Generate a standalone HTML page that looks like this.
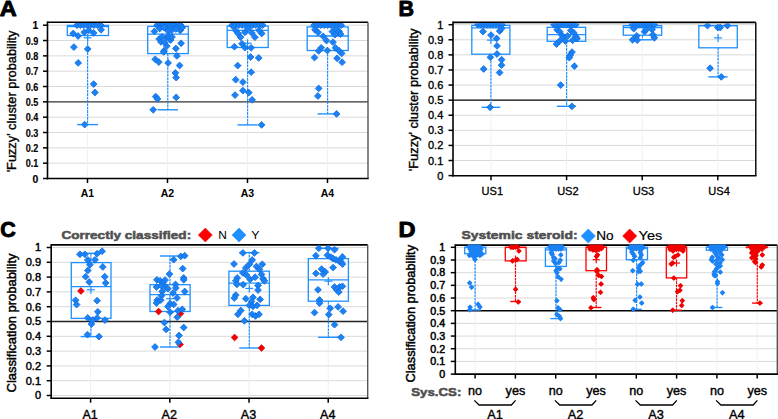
<!DOCTYPE html>
<html><head><meta charset="utf-8"><style>
html,body{margin:0;padding:0;background:#fff;width:778px;height:419px;overflow:hidden}
svg{display:block}
text{font-family:"Liberation Sans",sans-serif}
</style></head><body>
<svg width="778" height="419" viewBox="0 0 778 419">
<g font-family="Liberation Sans, sans-serif">
<text x="-0.2" y="15.7" font-size="21.5" font-weight="bold" text-anchor="start" fill="#000" stroke="#000" stroke-width="0.9" stroke-linejoin="round" textLength="17" lengthAdjust="spacingAndGlyphs">A</text>
<text x="398.6" y="15.6" font-size="21.5" font-weight="bold" text-anchor="start" fill="#000" stroke="#000" stroke-width="0.9" stroke-linejoin="round">B</text>
<text x="0.3" y="237.4" font-size="21.5" font-weight="bold" text-anchor="start" fill="#000" stroke="#000" stroke-width="0.9" stroke-linejoin="round">C</text>
<text x="398.6" y="237.4" font-size="21.5" font-weight="bold" text-anchor="start" fill="#000" stroke="#000" stroke-width="0.9" stroke-linejoin="round" textLength="17" lengthAdjust="spacingAndGlyphs">D</text>
<line x1="47.5" y1="163.17" x2="368" y2="163.17" stroke="#d9d9d9" stroke-width="1" />
<line x1="47.5" y1="147.84" x2="368" y2="147.84" stroke="#d9d9d9" stroke-width="1" />
<line x1="47.5" y1="132.51" x2="368" y2="132.51" stroke="#d9d9d9" stroke-width="1" />
<line x1="47.5" y1="117.18" x2="368" y2="117.18" stroke="#d9d9d9" stroke-width="1" />
<line x1="47.5" y1="86.52" x2="368" y2="86.52" stroke="#d9d9d9" stroke-width="1" />
<line x1="47.5" y1="71.19" x2="368" y2="71.19" stroke="#d9d9d9" stroke-width="1" />
<line x1="47.5" y1="55.86" x2="368" y2="55.86" stroke="#d9d9d9" stroke-width="1" />
<line x1="47.5" y1="40.53" x2="368" y2="40.53" stroke="#d9d9d9" stroke-width="1" />
<line x1="47.5" y1="25.2" x2="368" y2="25.2" stroke="#d9d9d9" stroke-width="1" />
<line x1="87.5" y1="22.2" x2="87.5" y2="178.5" stroke="#f0f0f0" stroke-width="1" />
<line x1="167.5" y1="22.2" x2="167.5" y2="178.5" stroke="#f0f0f0" stroke-width="1" />
<line x1="247.5" y1="22.2" x2="247.5" y2="178.5" stroke="#f0f0f0" stroke-width="1" />
<line x1="327.5" y1="22.2" x2="327.5" y2="178.5" stroke="#f0f0f0" stroke-width="1" />
<line x1="47.5" y1="101.85" x2="368" y2="101.85" stroke="#333" stroke-width="1.4" />
<line x1="47.5" y1="22.2" x2="368" y2="22.2" stroke="#000" stroke-width="1.6" />
<line x1="368" y1="22.2" x2="368" y2="178.5" stroke="#555" stroke-width="1.4" />
<line x1="46.7" y1="178.5" x2="368.7" y2="178.5" stroke="#000" stroke-width="1.6" />
<line x1="47.5" y1="21.4" x2="47.5" y2="179.3" stroke="#000" stroke-width="1.6" />
<line x1="43" y1="178.5" x2="47.5" y2="178.5" stroke="#000" stroke-width="1.5" />
<text x="38.3" y="182.5" font-size="10.4" font-weight="bold" text-anchor="end" fill="#000" stroke="#000" stroke-width="0.15">0</text>
<line x1="43" y1="163.17" x2="47.5" y2="163.17" stroke="#000" stroke-width="1.5" />
<text x="38.3" y="167.17" font-size="10.4" font-weight="bold" text-anchor="end" fill="#000" stroke="#000" stroke-width="0.15" textLength="12.6" lengthAdjust="spacingAndGlyphs">0.1</text>
<line x1="43" y1="147.84" x2="47.5" y2="147.84" stroke="#000" stroke-width="1.5" />
<text x="38.3" y="151.84" font-size="10.4" font-weight="bold" text-anchor="end" fill="#000" stroke="#000" stroke-width="0.15" textLength="12.6" lengthAdjust="spacingAndGlyphs">0.2</text>
<line x1="43" y1="132.51" x2="47.5" y2="132.51" stroke="#000" stroke-width="1.5" />
<text x="38.3" y="136.51" font-size="10.4" font-weight="bold" text-anchor="end" fill="#000" stroke="#000" stroke-width="0.15" textLength="12.6" lengthAdjust="spacingAndGlyphs">0.3</text>
<line x1="43" y1="117.18" x2="47.5" y2="117.18" stroke="#000" stroke-width="1.5" />
<text x="38.3" y="121.18" font-size="10.4" font-weight="bold" text-anchor="end" fill="#000" stroke="#000" stroke-width="0.15" textLength="12.6" lengthAdjust="spacingAndGlyphs">0.4</text>
<line x1="43" y1="101.85" x2="47.5" y2="101.85" stroke="#000" stroke-width="1.5" />
<text x="38.3" y="105.85" font-size="10.4" font-weight="bold" text-anchor="end" fill="#000" stroke="#000" stroke-width="0.15" textLength="12.6" lengthAdjust="spacingAndGlyphs">0.5</text>
<line x1="43" y1="86.52" x2="47.5" y2="86.52" stroke="#000" stroke-width="1.5" />
<text x="38.3" y="90.52" font-size="10.4" font-weight="bold" text-anchor="end" fill="#000" stroke="#000" stroke-width="0.15" textLength="12.6" lengthAdjust="spacingAndGlyphs">0.6</text>
<line x1="43" y1="71.19" x2="47.5" y2="71.19" stroke="#000" stroke-width="1.5" />
<text x="38.3" y="75.19" font-size="10.4" font-weight="bold" text-anchor="end" fill="#000" stroke="#000" stroke-width="0.15" textLength="12.6" lengthAdjust="spacingAndGlyphs">0.7</text>
<line x1="43" y1="55.86" x2="47.5" y2="55.86" stroke="#000" stroke-width="1.5" />
<text x="38.3" y="59.86" font-size="10.4" font-weight="bold" text-anchor="end" fill="#000" stroke="#000" stroke-width="0.15" textLength="12.6" lengthAdjust="spacingAndGlyphs">0.8</text>
<line x1="43" y1="40.53" x2="47.5" y2="40.53" stroke="#000" stroke-width="1.5" />
<text x="38.3" y="44.53" font-size="10.4" font-weight="bold" text-anchor="end" fill="#000" stroke="#000" stroke-width="0.15" textLength="12.6" lengthAdjust="spacingAndGlyphs">0.9</text>
<line x1="43" y1="25.2" x2="47.5" y2="25.2" stroke="#000" stroke-width="1.5" />
<text x="38.3" y="29.2" font-size="10.4" font-weight="bold" text-anchor="end" fill="#000" stroke="#000" stroke-width="0.15">1</text>
<line x1="87.5" y1="178.5" x2="87.5" y2="183" stroke="#000" stroke-width="1.5" />
<line x1="167.5" y1="178.5" x2="167.5" y2="183" stroke="#000" stroke-width="1.5" />
<line x1="247.5" y1="178.5" x2="247.5" y2="183" stroke="#000" stroke-width="1.5" />
<line x1="327.5" y1="178.5" x2="327.5" y2="183" stroke="#000" stroke-width="1.5" />
<line x1="453" y1="160.51" x2="755.8" y2="160.51" stroke="#d9d9d9" stroke-width="1" />
<line x1="453" y1="145.42" x2="755.8" y2="145.42" stroke="#d9d9d9" stroke-width="1" />
<line x1="453" y1="130.33" x2="755.8" y2="130.33" stroke="#d9d9d9" stroke-width="1" />
<line x1="453" y1="115.24" x2="755.8" y2="115.24" stroke="#d9d9d9" stroke-width="1" />
<line x1="453" y1="85.06" x2="755.8" y2="85.06" stroke="#d9d9d9" stroke-width="1" />
<line x1="453" y1="69.97" x2="755.8" y2="69.97" stroke="#d9d9d9" stroke-width="1" />
<line x1="453" y1="54.88" x2="755.8" y2="54.88" stroke="#d9d9d9" stroke-width="1" />
<line x1="453" y1="39.79" x2="755.8" y2="39.79" stroke="#d9d9d9" stroke-width="1" />
<line x1="453" y1="24.7" x2="755.8" y2="24.7" stroke="#d9d9d9" stroke-width="1" />
<line x1="491" y1="22.4" x2="491" y2="175.7" stroke="#f0f0f0" stroke-width="1" />
<line x1="566.6" y1="22.4" x2="566.6" y2="175.7" stroke="#f0f0f0" stroke-width="1" />
<line x1="642.2" y1="22.4" x2="642.2" y2="175.7" stroke="#f0f0f0" stroke-width="1" />
<line x1="717.8" y1="22.4" x2="717.8" y2="175.7" stroke="#f0f0f0" stroke-width="1" />
<line x1="453" y1="100.15" x2="755.8" y2="100.15" stroke="#000" stroke-width="1.4" />
<line x1="453" y1="22.4" x2="755.8" y2="22.4" stroke="#000" stroke-width="1.6" />
<line x1="755.8" y1="22.4" x2="755.8" y2="175.7" stroke="#000" stroke-width="1.4" />
<line x1="452.2" y1="175.7" x2="756.5" y2="175.7" stroke="#000" stroke-width="1.6" />
<line x1="453" y1="21.6" x2="453" y2="176.5" stroke="#000" stroke-width="1.6" />
<line x1="448.5" y1="175.6" x2="453" y2="175.6" stroke="#000" stroke-width="1.5" />
<text x="443.3" y="179.6" font-size="11" font-weight="normal" text-anchor="end" fill="#000" stroke="#000" stroke-width="0.35">0</text>
<line x1="448.5" y1="160.51" x2="453" y2="160.51" stroke="#000" stroke-width="1.5" />
<text x="443.3" y="164.51" font-size="11" font-weight="normal" text-anchor="end" fill="#000" stroke="#000" stroke-width="0.35">0.1</text>
<line x1="448.5" y1="145.42" x2="453" y2="145.42" stroke="#000" stroke-width="1.5" />
<text x="443.3" y="149.42" font-size="11" font-weight="normal" text-anchor="end" fill="#000" stroke="#000" stroke-width="0.35">0.2</text>
<line x1="448.5" y1="130.33" x2="453" y2="130.33" stroke="#000" stroke-width="1.5" />
<text x="443.3" y="134.33" font-size="11" font-weight="normal" text-anchor="end" fill="#000" stroke="#000" stroke-width="0.35">0.3</text>
<line x1="448.5" y1="115.24" x2="453" y2="115.24" stroke="#000" stroke-width="1.5" />
<text x="443.3" y="119.24" font-size="11" font-weight="normal" text-anchor="end" fill="#000" stroke="#000" stroke-width="0.35">0.4</text>
<line x1="448.5" y1="100.15" x2="453" y2="100.15" stroke="#000" stroke-width="1.5" />
<text x="443.3" y="104.15" font-size="11" font-weight="normal" text-anchor="end" fill="#000" stroke="#000" stroke-width="0.35">0.5</text>
<line x1="448.5" y1="85.06" x2="453" y2="85.06" stroke="#000" stroke-width="1.5" />
<text x="443.3" y="89.06" font-size="11" font-weight="normal" text-anchor="end" fill="#000" stroke="#000" stroke-width="0.35">0.6</text>
<line x1="448.5" y1="69.97" x2="453" y2="69.97" stroke="#000" stroke-width="1.5" />
<text x="443.3" y="73.97" font-size="11" font-weight="normal" text-anchor="end" fill="#000" stroke="#000" stroke-width="0.35">0.7</text>
<line x1="448.5" y1="54.88" x2="453" y2="54.88" stroke="#000" stroke-width="1.5" />
<text x="443.3" y="58.88" font-size="11" font-weight="normal" text-anchor="end" fill="#000" stroke="#000" stroke-width="0.35">0.8</text>
<line x1="448.5" y1="39.79" x2="453" y2="39.79" stroke="#000" stroke-width="1.5" />
<text x="443.3" y="43.79" font-size="11" font-weight="normal" text-anchor="end" fill="#000" stroke="#000" stroke-width="0.35">0.9</text>
<line x1="448.5" y1="24.7" x2="453" y2="24.7" stroke="#000" stroke-width="1.5" />
<text x="443.3" y="28.7" font-size="11" font-weight="normal" text-anchor="end" fill="#000" stroke="#000" stroke-width="0.35">1</text>
<line x1="491" y1="175.7" x2="491" y2="180.2" stroke="#000" stroke-width="1.5" />
<line x1="566.6" y1="175.7" x2="566.6" y2="180.2" stroke="#000" stroke-width="1.5" />
<line x1="642.2" y1="175.7" x2="642.2" y2="180.2" stroke="#000" stroke-width="1.5" />
<line x1="717.8" y1="175.7" x2="717.8" y2="180.2" stroke="#000" stroke-width="1.5" />
<line x1="51.2" y1="395.5" x2="367.7" y2="395.5" stroke="#d9d9d9" stroke-width="1" />
<line x1="51.2" y1="380.7" x2="367.7" y2="380.7" stroke="#d9d9d9" stroke-width="1" />
<line x1="51.2" y1="365.9" x2="367.7" y2="365.9" stroke="#d9d9d9" stroke-width="1" />
<line x1="51.2" y1="351.1" x2="367.7" y2="351.1" stroke="#d9d9d9" stroke-width="1" />
<line x1="51.2" y1="336.3" x2="367.7" y2="336.3" stroke="#d9d9d9" stroke-width="1" />
<line x1="51.2" y1="306.7" x2="367.7" y2="306.7" stroke="#d9d9d9" stroke-width="1" />
<line x1="51.2" y1="291.9" x2="367.7" y2="291.9" stroke="#d9d9d9" stroke-width="1" />
<line x1="51.2" y1="277.1" x2="367.7" y2="277.1" stroke="#d9d9d9" stroke-width="1" />
<line x1="51.2" y1="262.3" x2="367.7" y2="262.3" stroke="#d9d9d9" stroke-width="1" />
<line x1="51.2" y1="247.5" x2="367.7" y2="247.5" stroke="#d9d9d9" stroke-width="1" />
<line x1="90.6" y1="244.9" x2="90.6" y2="398.2" stroke="#f0f0f0" stroke-width="1" />
<line x1="169.8" y1="244.9" x2="169.8" y2="398.2" stroke="#f0f0f0" stroke-width="1" />
<line x1="249" y1="244.9" x2="249" y2="398.2" stroke="#f0f0f0" stroke-width="1" />
<line x1="328.2" y1="244.9" x2="328.2" y2="398.2" stroke="#f0f0f0" stroke-width="1" />
<line x1="51.2" y1="321.5" x2="367.7" y2="321.5" stroke="#222" stroke-width="1.4" />
<line x1="51.2" y1="244.9" x2="367.7" y2="244.9" stroke="#000" stroke-width="1.6" />
<line x1="367.7" y1="244.9" x2="367.7" y2="398.2" stroke="#555" stroke-width="1.4" />
<line x1="50.4" y1="398.2" x2="368.4" y2="398.2" stroke="#000" stroke-width="1.6" />
<line x1="51.2" y1="244.1" x2="51.2" y2="399" stroke="#000" stroke-width="1.6" />
<line x1="46.7" y1="395.5" x2="51.2" y2="395.5" stroke="#000" stroke-width="1.5" />
<text x="41" y="399.4" font-size="11" font-weight="normal" text-anchor="end" fill="#000" stroke="#000" stroke-width="0.45">0</text>
<line x1="46.7" y1="380.7" x2="51.2" y2="380.7" stroke="#000" stroke-width="1.5" />
<text x="41" y="384.6" font-size="11" font-weight="normal" text-anchor="end" fill="#000" stroke="#000" stroke-width="0.45">0.1</text>
<line x1="46.7" y1="365.9" x2="51.2" y2="365.9" stroke="#000" stroke-width="1.5" />
<text x="41" y="369.8" font-size="11" font-weight="normal" text-anchor="end" fill="#000" stroke="#000" stroke-width="0.45">0.2</text>
<line x1="46.7" y1="351.1" x2="51.2" y2="351.1" stroke="#000" stroke-width="1.5" />
<text x="41" y="355" font-size="11" font-weight="normal" text-anchor="end" fill="#000" stroke="#000" stroke-width="0.45">0.3</text>
<line x1="46.7" y1="336.3" x2="51.2" y2="336.3" stroke="#000" stroke-width="1.5" />
<text x="41" y="340.2" font-size="11" font-weight="normal" text-anchor="end" fill="#000" stroke="#000" stroke-width="0.45">0.4</text>
<line x1="46.7" y1="321.5" x2="51.2" y2="321.5" stroke="#000" stroke-width="1.5" />
<text x="41" y="325.4" font-size="11" font-weight="normal" text-anchor="end" fill="#000" stroke="#000" stroke-width="0.45">0.5</text>
<line x1="46.7" y1="306.7" x2="51.2" y2="306.7" stroke="#000" stroke-width="1.5" />
<text x="41" y="310.6" font-size="11" font-weight="normal" text-anchor="end" fill="#000" stroke="#000" stroke-width="0.45">0.6</text>
<line x1="46.7" y1="291.9" x2="51.2" y2="291.9" stroke="#000" stroke-width="1.5" />
<text x="41" y="295.8" font-size="11" font-weight="normal" text-anchor="end" fill="#000" stroke="#000" stroke-width="0.45">0.7</text>
<line x1="46.7" y1="277.1" x2="51.2" y2="277.1" stroke="#000" stroke-width="1.5" />
<text x="41" y="281" font-size="11" font-weight="normal" text-anchor="end" fill="#000" stroke="#000" stroke-width="0.45">0.8</text>
<line x1="46.7" y1="262.3" x2="51.2" y2="262.3" stroke="#000" stroke-width="1.5" />
<text x="41" y="266.2" font-size="11" font-weight="normal" text-anchor="end" fill="#000" stroke="#000" stroke-width="0.45">0.9</text>
<line x1="46.7" y1="247.5" x2="51.2" y2="247.5" stroke="#000" stroke-width="1.5" />
<text x="41" y="251.4" font-size="11" font-weight="normal" text-anchor="end" fill="#000" stroke="#000" stroke-width="0.45">1</text>
<line x1="90.6" y1="398.2" x2="90.6" y2="402.7" stroke="#000" stroke-width="1.5" />
<line x1="169.8" y1="398.2" x2="169.8" y2="402.7" stroke="#000" stroke-width="1.5" />
<line x1="249" y1="398.2" x2="249" y2="402.7" stroke="#000" stroke-width="1.5" />
<line x1="328.2" y1="398.2" x2="328.2" y2="402.7" stroke="#000" stroke-width="1.5" />
<line x1="455.3" y1="361.42" x2="777.3" y2="361.42" stroke="#d9d9d9" stroke-width="1" />
<line x1="455.3" y1="348.74" x2="777.3" y2="348.74" stroke="#d9d9d9" stroke-width="1" />
<line x1="455.3" y1="336.06" x2="777.3" y2="336.06" stroke="#d9d9d9" stroke-width="1" />
<line x1="455.3" y1="323.38" x2="777.3" y2="323.38" stroke="#d9d9d9" stroke-width="1" />
<line x1="455.3" y1="298.02" x2="777.3" y2="298.02" stroke="#d9d9d9" stroke-width="1" />
<line x1="455.3" y1="285.34" x2="777.3" y2="285.34" stroke="#d9d9d9" stroke-width="1" />
<line x1="455.3" y1="272.66" x2="777.3" y2="272.66" stroke="#d9d9d9" stroke-width="1" />
<line x1="455.3" y1="259.98" x2="777.3" y2="259.98" stroke="#d9d9d9" stroke-width="1" />
<line x1="455.3" y1="247.3" x2="777.3" y2="247.3" stroke="#d9d9d9" stroke-width="1" />
<line x1="475.1" y1="245.1" x2="475.1" y2="374.1" stroke="#f0f0f0" stroke-width="1" />
<line x1="515.4" y1="245.1" x2="515.4" y2="374.1" stroke="#f0f0f0" stroke-width="1" />
<line x1="555.7" y1="245.1" x2="555.7" y2="374.1" stroke="#f0f0f0" stroke-width="1" />
<line x1="596" y1="245.1" x2="596" y2="374.1" stroke="#f0f0f0" stroke-width="1" />
<line x1="636.3" y1="245.1" x2="636.3" y2="374.1" stroke="#f0f0f0" stroke-width="1" />
<line x1="676.6" y1="245.1" x2="676.6" y2="374.1" stroke="#f0f0f0" stroke-width="1" />
<line x1="716.9" y1="245.1" x2="716.9" y2="374.1" stroke="#f0f0f0" stroke-width="1" />
<line x1="757.2" y1="245.1" x2="757.2" y2="374.1" stroke="#f0f0f0" stroke-width="1" />
<line x1="455.3" y1="310.7" x2="777.3" y2="310.7" stroke="#000" stroke-width="1.4" />
<line x1="455.3" y1="245.1" x2="777.3" y2="245.1" stroke="#000" stroke-width="1.6" />
<line x1="777.3" y1="245.1" x2="777.3" y2="374.1" stroke="#555" stroke-width="1.4" />
<line x1="454.5" y1="374.1" x2="778" y2="374.1" stroke="#000" stroke-width="1.6" />
<line x1="455.3" y1="244.3" x2="455.3" y2="374.9" stroke="#000" stroke-width="1.6" />
<line x1="450.8" y1="374.1" x2="455.3" y2="374.1" stroke="#000" stroke-width="1.5" />
<text x="445.2" y="377.9" font-size="10.7" font-weight="normal" text-anchor="end" fill="#000" stroke="#000" stroke-width="0.5">0</text>
<line x1="450.8" y1="361.42" x2="455.3" y2="361.42" stroke="#000" stroke-width="1.5" />
<text x="445.2" y="365.22" font-size="10.7" font-weight="normal" text-anchor="end" fill="#000" stroke="#000" stroke-width="0.5">0.1</text>
<line x1="450.8" y1="348.74" x2="455.3" y2="348.74" stroke="#000" stroke-width="1.5" />
<text x="445.2" y="352.54" font-size="10.7" font-weight="normal" text-anchor="end" fill="#000" stroke="#000" stroke-width="0.5">0.2</text>
<line x1="450.8" y1="336.06" x2="455.3" y2="336.06" stroke="#000" stroke-width="1.5" />
<text x="445.2" y="339.86" font-size="10.7" font-weight="normal" text-anchor="end" fill="#000" stroke="#000" stroke-width="0.5">0.3</text>
<line x1="450.8" y1="323.38" x2="455.3" y2="323.38" stroke="#000" stroke-width="1.5" />
<text x="445.2" y="327.18" font-size="10.7" font-weight="normal" text-anchor="end" fill="#000" stroke="#000" stroke-width="0.5">0.4</text>
<line x1="450.8" y1="310.7" x2="455.3" y2="310.7" stroke="#000" stroke-width="1.5" />
<text x="445.2" y="314.5" font-size="10.7" font-weight="normal" text-anchor="end" fill="#000" stroke="#000" stroke-width="0.5">0.5</text>
<line x1="450.8" y1="298.02" x2="455.3" y2="298.02" stroke="#000" stroke-width="1.5" />
<text x="445.2" y="301.82" font-size="10.7" font-weight="normal" text-anchor="end" fill="#000" stroke="#000" stroke-width="0.5">0.6</text>
<line x1="450.8" y1="285.34" x2="455.3" y2="285.34" stroke="#000" stroke-width="1.5" />
<text x="445.2" y="289.14" font-size="10.7" font-weight="normal" text-anchor="end" fill="#000" stroke="#000" stroke-width="0.5">0.7</text>
<line x1="450.8" y1="272.66" x2="455.3" y2="272.66" stroke="#000" stroke-width="1.5" />
<text x="445.2" y="276.46" font-size="10.7" font-weight="normal" text-anchor="end" fill="#000" stroke="#000" stroke-width="0.5">0.8</text>
<line x1="450.8" y1="259.98" x2="455.3" y2="259.98" stroke="#000" stroke-width="1.5" />
<text x="445.2" y="263.78" font-size="10.7" font-weight="normal" text-anchor="end" fill="#000" stroke="#000" stroke-width="0.5">0.9</text>
<line x1="450.8" y1="247.3" x2="455.3" y2="247.3" stroke="#000" stroke-width="1.5" />
<text x="445.2" y="251.1" font-size="10.7" font-weight="normal" text-anchor="end" fill="#000" stroke="#000" stroke-width="0.5">1</text>
<line x1="475.1" y1="374.1" x2="475.1" y2="378.6" stroke="#000" stroke-width="1.5" />
<line x1="515.4" y1="374.1" x2="515.4" y2="378.6" stroke="#000" stroke-width="1.5" />
<line x1="555.7" y1="374.1" x2="555.7" y2="378.6" stroke="#000" stroke-width="1.5" />
<line x1="596" y1="374.1" x2="596" y2="378.6" stroke="#000" stroke-width="1.5" />
<line x1="636.3" y1="374.1" x2="636.3" y2="378.6" stroke="#000" stroke-width="1.5" />
<line x1="676.6" y1="374.1" x2="676.6" y2="378.6" stroke="#000" stroke-width="1.5" />
<line x1="716.9" y1="374.1" x2="716.9" y2="378.6" stroke="#000" stroke-width="1.5" />
<line x1="757.2" y1="374.1" x2="757.2" y2="378.6" stroke="#000" stroke-width="1.5" />
<text x="16.1" y="101.45" font-size="12" font-weight="normal" text-anchor="middle" fill="#000" transform="rotate(-90 16.1 101.45)" stroke="#000" stroke-width="0.35" textLength="141.8" lengthAdjust="spacingAndGlyphs">'Fuzzy' cluster probability</text>
<text x="418.1" y="99.9" font-size="12" font-weight="normal" text-anchor="middle" fill="#000" transform="rotate(-90 418.1 99.9)" stroke="#000" stroke-width="0.35" textLength="142.6" lengthAdjust="spacingAndGlyphs">'Fuzzy' cluster probability</text>
<text x="16.3" y="322.95" font-size="12.2" font-weight="normal" text-anchor="middle" fill="#000" transform="rotate(-90 16.3 322.95)" stroke="#000" stroke-width="0.45" textLength="139" lengthAdjust="spacingAndGlyphs">Classification probability</text>
<text x="415.1" y="313.7" font-size="12.2" font-weight="normal" text-anchor="middle" fill="#000" transform="rotate(-90 415.1 313.7)" stroke="#000" stroke-width="0.45" textLength="137.6" lengthAdjust="spacingAndGlyphs">Classification probability</text>
<text x="87.5" y="197" font-size="10.5" font-weight="bold" text-anchor="middle" fill="#000" >A1</text>
<text x="167.5" y="197" font-size="10.5" font-weight="bold" text-anchor="middle" fill="#000" >A2</text>
<text x="247.5" y="197" font-size="10.5" font-weight="bold" text-anchor="middle" fill="#000" >A3</text>
<text x="327.5" y="197" font-size="10.5" font-weight="bold" text-anchor="middle" fill="#000" >A4</text>
<text x="492.3" y="194.8" font-size="11" font-weight="normal" text-anchor="middle" fill="#000" stroke="#000" stroke-width="0.3" textLength="21.5" lengthAdjust="spacingAndGlyphs">US1</text>
<text x="567.9" y="194.8" font-size="11" font-weight="normal" text-anchor="middle" fill="#000" stroke="#000" stroke-width="0.3" textLength="21.5" lengthAdjust="spacingAndGlyphs">US2</text>
<text x="643.5" y="194.8" font-size="11" font-weight="normal" text-anchor="middle" fill="#000" stroke="#000" stroke-width="0.3" textLength="21.5" lengthAdjust="spacingAndGlyphs">US3</text>
<text x="719.1" y="194.8" font-size="11" font-weight="normal" text-anchor="middle" fill="#000" stroke="#000" stroke-width="0.3" textLength="21.5" lengthAdjust="spacingAndGlyphs">US4</text>
<text x="90.1" y="418.9" font-size="13.4" font-weight="normal" text-anchor="middle" fill="#000" stroke="#000" stroke-width="0.4" textLength="15.4" lengthAdjust="spacingAndGlyphs">A1</text>
<text x="169.3" y="418.9" font-size="13.4" font-weight="normal" text-anchor="middle" fill="#000" stroke="#000" stroke-width="0.4" textLength="15.4" lengthAdjust="spacingAndGlyphs">A2</text>
<text x="248.5" y="418.9" font-size="13.4" font-weight="normal" text-anchor="middle" fill="#000" stroke="#000" stroke-width="0.4" textLength="15.4" lengthAdjust="spacingAndGlyphs">A3</text>
<text x="327.7" y="418.9" font-size="13.4" font-weight="normal" text-anchor="middle" fill="#000" stroke="#000" stroke-width="0.4" textLength="15.4" lengthAdjust="spacingAndGlyphs">A4</text>
<text x="61.4" y="238.7" font-size="11.8" font-weight="bold" text-anchor="start" fill="#505050" stroke="#505050" stroke-width="0.55" textLength="129.8" lengthAdjust="spacingAndGlyphs">Correctly classified:</text>
<path d="M205.3 228L212.3 235L205.3 242L198.3 235Z" fill="#f00" stroke="#e00000" stroke-width="0.5" />
<text x="218.2" y="239" font-size="10.8" font-weight="normal" text-anchor="start" fill="#000" textLength="8.6" lengthAdjust="spacingAndGlyphs">N</text>
<path d="M239 228L246 235L239 242L232 235Z" fill="#1e90ff" stroke="#1a84f0" stroke-width="0.5" />
<text x="251.2" y="239" font-size="10.8" font-weight="normal" text-anchor="start" fill="#000" textLength="8.2" lengthAdjust="spacingAndGlyphs">Y</text>
<text x="461.4" y="238.6" font-size="11.8" font-weight="bold" text-anchor="start" fill="#505050" stroke="#505050" stroke-width="0.55" textLength="116.2" lengthAdjust="spacingAndGlyphs">Systemic steroid:</text>
<path d="M588.3 228.9L595.4 236L588.3 243.1L581.2 236Z" fill="#1e90ff" stroke="#1a84f0" stroke-width="0.5" />
<text x="596.2" y="239.8" font-size="12.8" font-weight="normal" text-anchor="start" fill="#000" stroke="#000" stroke-width="0.2" textLength="17.4" lengthAdjust="spacingAndGlyphs">No</text>
<path d="M629.7 228.9L636.8 236L629.7 243.1L622.6 236Z" fill="#f00" stroke="#e00000" stroke-width="0.5" />
<text x="638.6" y="239.8" font-size="12.8" font-weight="normal" text-anchor="start" fill="#000" stroke="#000" stroke-width="0.2" textLength="23.6" lengthAdjust="spacingAndGlyphs">Yes</text>
<text x="411.3" y="395.9" font-size="11.8" font-weight="bold" text-anchor="start" fill="#505050" stroke="#505050" stroke-width="0.55" textLength="50" lengthAdjust="spacingAndGlyphs">Sys.CS:</text>
<text x="475.1" y="394.7" font-size="12.6" font-weight="normal" text-anchor="middle" fill="#000" stroke="#000" stroke-width="0.4">no</text>
<text x="515.4" y="394.7" font-size="12.6" font-weight="normal" text-anchor="middle" fill="#000" stroke="#000" stroke-width="0.4">yes</text>
<text x="555.7" y="394.7" font-size="12.6" font-weight="normal" text-anchor="middle" fill="#000" stroke="#000" stroke-width="0.4">no</text>
<text x="596" y="394.7" font-size="12.6" font-weight="normal" text-anchor="middle" fill="#000" stroke="#000" stroke-width="0.4">yes</text>
<text x="636.3" y="394.7" font-size="12.6" font-weight="normal" text-anchor="middle" fill="#000" stroke="#000" stroke-width="0.4">no</text>
<text x="676.6" y="394.7" font-size="12.6" font-weight="normal" text-anchor="middle" fill="#000" stroke="#000" stroke-width="0.4">yes</text>
<text x="716.9" y="394.7" font-size="12.6" font-weight="normal" text-anchor="middle" fill="#000" stroke="#000" stroke-width="0.4">no</text>
<text x="757.2" y="394.7" font-size="12.6" font-weight="normal" text-anchor="middle" fill="#000" stroke="#000" stroke-width="0.4">yes</text>
<path d="M474.3 400.4 L479.1 405 L511.4 405 L515.6 400.4" fill="none" stroke="#000" stroke-width="1.3"/>
<text x="494.95" y="419.4" font-size="13.4" font-weight="normal" text-anchor="middle" fill="#000" stroke="#000" stroke-width="0.4" textLength="15.6" lengthAdjust="spacingAndGlyphs">A1</text>
<path d="M554.9 400.4 L559.7 405 L592 405 L596.2 400.4" fill="none" stroke="#000" stroke-width="1.3"/>
<text x="575.55" y="419.4" font-size="13.4" font-weight="normal" text-anchor="middle" fill="#000" stroke="#000" stroke-width="0.4" textLength="15.6" lengthAdjust="spacingAndGlyphs">A2</text>
<path d="M635.5 400.4 L640.3 405 L672.6 405 L676.8 400.4" fill="none" stroke="#000" stroke-width="1.3"/>
<text x="656.15" y="419.4" font-size="13.4" font-weight="normal" text-anchor="middle" fill="#000" stroke="#000" stroke-width="0.4" textLength="15.6" lengthAdjust="spacingAndGlyphs">A3</text>
<path d="M716.1 400.4 L720.9 405 L753.2 405 L757.4 400.4" fill="none" stroke="#000" stroke-width="1.3"/>
<text x="736.75" y="419.4" font-size="13.4" font-weight="normal" text-anchor="middle" fill="#000" stroke="#000" stroke-width="0.4" textLength="15.6" lengthAdjust="spacingAndGlyphs">A4</text>
<line x1="87.6" y1="35.5" x2="87.6" y2="124.6" stroke="#1e90ff" stroke-width="1.2" stroke-dasharray="2.6 0.8"/>
<line x1="77.2" y1="124.6" x2="98" y2="124.6" stroke="#1e90ff" stroke-width="1.4" />
<rect x="67.3" y="25.4" width="41.2" height="10.1" fill="none" stroke="#1e90ff" stroke-width="1.3"/>
<line x1="67.3" y1="26.7" x2="108.5" y2="26.7" stroke="#1e90ff" stroke-width="1.3" />
<line x1="83.6" y1="37.8" x2="91.6" y2="37.8" stroke="#1e90ff" stroke-width="1.2" />
<line x1="87.6" y1="33.8" x2="87.6" y2="41.8" stroke="#1e90ff" stroke-width="1.2" />
<line x1="167.8" y1="53.6" x2="167.8" y2="109.8" stroke="#1e90ff" stroke-width="1.2" stroke-dasharray="2.6 0.8"/>
<line x1="157.5" y1="109.8" x2="178" y2="109.8" stroke="#1e90ff" stroke-width="1.4" />
<rect x="147.7" y="26.4" width="40.6" height="27.2" fill="none" stroke="#1e90ff" stroke-width="1.3"/>
<line x1="147.7" y1="34.2" x2="188.3" y2="34.2" stroke="#1e90ff" stroke-width="1.3" />
<line x1="247.6" y1="47.5" x2="247.6" y2="124.9" stroke="#1e90ff" stroke-width="1.2" stroke-dasharray="2.6 0.8"/>
<line x1="237.5" y1="124.9" x2="257.7" y2="124.9" stroke="#1e90ff" stroke-width="1.4" />
<rect x="227.2" y="26.1" width="41" height="21.4" fill="none" stroke="#1e90ff" stroke-width="1.3"/>
<line x1="227.2" y1="30.4" x2="268.2" y2="30.4" stroke="#1e90ff" stroke-width="1.3" />
<line x1="243.6" y1="43.2" x2="251.6" y2="43.2" stroke="#1e90ff" stroke-width="1.2" />
<line x1="247.6" y1="39.2" x2="247.6" y2="47.2" stroke="#1e90ff" stroke-width="1.2" />
<line x1="327.6" y1="50.5" x2="327.6" y2="113.9" stroke="#1e90ff" stroke-width="1.2" stroke-dasharray="2.6 0.8"/>
<line x1="317.6" y1="113.9" x2="337.6" y2="113.9" stroke="#1e90ff" stroke-width="1.4" />
<rect x="307.2" y="26.9" width="41" height="23.6" fill="none" stroke="#1e90ff" stroke-width="1.3"/>
<line x1="307.2" y1="36" x2="348.2" y2="36" stroke="#1e90ff" stroke-width="1.3" />
<line x1="490.9" y1="54.2" x2="490.9" y2="107.3" stroke="#1e90ff" stroke-width="1.2" stroke-dasharray="2.6 0.8"/>
<line x1="481.5" y1="107.3" x2="500.3" y2="107.3" stroke="#1e90ff" stroke-width="1.4" />
<rect x="471.8" y="25.4" width="38.1" height="28.8" fill="none" stroke="#1e90ff" stroke-width="1.3"/>
<line x1="471.8" y1="27.9" x2="509.9" y2="27.9" stroke="#1e90ff" stroke-width="1.3" />
<line x1="486.9" y1="40.1" x2="494.9" y2="40.1" stroke="#1e90ff" stroke-width="1.2" />
<line x1="490.9" y1="36.1" x2="490.9" y2="44.1" stroke="#1e90ff" stroke-width="1.2" />
<line x1="566.6" y1="41.3" x2="566.6" y2="106.3" stroke="#1e90ff" stroke-width="1.2" stroke-dasharray="2.6 0.8"/>
<line x1="556.9" y1="106.3" x2="576.1" y2="106.3" stroke="#1e90ff" stroke-width="1.4" />
<rect x="547.2" y="27.3" width="38.5" height="14" fill="none" stroke="#1e90ff" stroke-width="1.3"/>
<line x1="547.2" y1="34.7" x2="585.7" y2="34.7" stroke="#1e90ff" stroke-width="1.3" />
<line x1="642.5" y1="35.2" x2="642.5" y2="39.8" stroke="#1e90ff" stroke-width="1.2" stroke-dasharray="2.6 0.8"/>
<line x1="632.5" y1="39.8" x2="652.5" y2="39.8" stroke="#1e90ff" stroke-width="1.4" />
<rect x="623.3" y="25.6" width="38.4" height="9.6" fill="none" stroke="#1e90ff" stroke-width="1.3"/>
<line x1="623.3" y1="27.5" x2="661.7" y2="27.5" stroke="#1e90ff" stroke-width="1.3" />
<line x1="718.1" y1="47.8" x2="718.1" y2="76.9" stroke="#1e90ff" stroke-width="1.2" stroke-dasharray="2.6 0.8"/>
<line x1="708.3" y1="76.9" x2="727.6" y2="76.9" stroke="#1e90ff" stroke-width="1.4" />
<rect x="698.8" y="25.6" width="38.5" height="22.2" fill="none" stroke="#1e90ff" stroke-width="1.3"/>
<line x1="698.8" y1="25.6" x2="737.3" y2="25.6" stroke="#1e90ff" stroke-width="1.3" />
<line x1="714.1" y1="37.9" x2="722.1" y2="37.9" stroke="#1e90ff" stroke-width="1.2" />
<line x1="718.1" y1="33.9" x2="718.1" y2="41.9" stroke="#1e90ff" stroke-width="1.2" />
<line x1="90.9" y1="318.4" x2="90.9" y2="336.6" stroke="#1e90ff" stroke-width="1.2" stroke-dasharray="2.6 0.8"/>
<line x1="80.6" y1="336.6" x2="100.8" y2="336.6" stroke="#1e90ff" stroke-width="1.4" />
<line x1="90.9" y1="262.6" x2="90.9" y2="253.3" stroke="#1e90ff" stroke-width="1.2" stroke-dasharray="2.6 0.8"/>
<line x1="80.6" y1="253.3" x2="100.8" y2="253.3" stroke="#1e90ff" stroke-width="1.4" />
<rect x="71.3" y="262.6" width="39.7" height="55.8" fill="none" stroke="#1e90ff" stroke-width="1.3"/>
<line x1="71.3" y1="286.7" x2="111" y2="286.7" stroke="#1e90ff" stroke-width="1.3" />
<line x1="86.9" y1="289.8" x2="94.9" y2="289.8" stroke="#1e90ff" stroke-width="1.2" />
<line x1="90.9" y1="285.8" x2="90.9" y2="293.8" stroke="#1e90ff" stroke-width="1.2" />
<line x1="170" y1="311.5" x2="170" y2="347" stroke="#1e90ff" stroke-width="1.2" stroke-dasharray="2.6 0.8"/>
<line x1="160" y1="347" x2="179.8" y2="347" stroke="#1e90ff" stroke-width="1.4" />
<line x1="170" y1="284.7" x2="170" y2="256" stroke="#1e90ff" stroke-width="1.2" stroke-dasharray="2.6 0.8"/>
<line x1="160" y1="256" x2="180" y2="256" stroke="#1e90ff" stroke-width="1.4" />
<rect x="150" y="284.7" width="40.1" height="26.8" fill="none" stroke="#1e90ff" stroke-width="1.3"/>
<line x1="150" y1="294.7" x2="190.1" y2="294.7" stroke="#1e90ff" stroke-width="1.3" />
<line x1="166" y1="298.7" x2="174" y2="298.7" stroke="#1e90ff" stroke-width="1.2" />
<line x1="170" y1="294.7" x2="170" y2="302.7" stroke="#1e90ff" stroke-width="1.2" />
<line x1="249.3" y1="305.4" x2="249.3" y2="348" stroke="#1e90ff" stroke-width="1.2" stroke-dasharray="2.6 0.8"/>
<line x1="239.3" y1="348" x2="259.6" y2="348" stroke="#1e90ff" stroke-width="1.4" />
<line x1="249.3" y1="271.2" x2="249.3" y2="252.6" stroke="#1e90ff" stroke-width="1.2" stroke-dasharray="2.6 0.8"/>
<line x1="239.3" y1="252.6" x2="259.4" y2="252.6" stroke="#1e90ff" stroke-width="1.4" />
<rect x="228.9" y="271.2" width="40.5" height="34.2" fill="none" stroke="#1e90ff" stroke-width="1.3"/>
<line x1="228.9" y1="283.2" x2="269.4" y2="283.2" stroke="#1e90ff" stroke-width="1.3" />
<line x1="245.3" y1="288.4" x2="253.3" y2="288.4" stroke="#1e90ff" stroke-width="1.2" />
<line x1="249.3" y1="284.4" x2="249.3" y2="292.4" stroke="#1e90ff" stroke-width="1.2" />
<line x1="328.4" y1="301.2" x2="328.4" y2="337.3" stroke="#1e90ff" stroke-width="1.2" stroke-dasharray="2.6 0.8"/>
<line x1="318.1" y1="337.3" x2="338.5" y2="337.3" stroke="#1e90ff" stroke-width="1.4" />
<line x1="328.4" y1="258.6" x2="328.4" y2="248.3" stroke="#1e90ff" stroke-width="1.2" stroke-dasharray="2.6 0.8"/>
<line x1="318.1" y1="248.3" x2="338.5" y2="248.3" stroke="#1e90ff" stroke-width="1.4" />
<rect x="308.3" y="258.6" width="40.1" height="42.6" fill="none" stroke="#1e90ff" stroke-width="1.3"/>
<line x1="308.3" y1="279.8" x2="348.4" y2="279.8" stroke="#1e90ff" stroke-width="1.3" />
<line x1="324.4" y1="281.2" x2="332.4" y2="281.2" stroke="#1e90ff" stroke-width="1.2" />
<line x1="328.4" y1="277.2" x2="328.4" y2="285.2" stroke="#1e90ff" stroke-width="1.2" />
<line x1="475.1" y1="253.7" x2="475.1" y2="310" stroke="#1e90ff" stroke-width="1.2" stroke-dasharray="2.6 0.8"/>
<line x1="469.5" y1="310" x2="481" y2="310" stroke="#1e90ff" stroke-width="1.4" />
<rect x="464.7" y="247.2" width="21.1" height="6.5" fill="none" stroke="#1e90ff" stroke-width="1.3"/>
<line x1="464.7" y1="247.6" x2="485.8" y2="247.6" stroke="#1e90ff" stroke-width="1.3" />
<line x1="515.5" y1="260.9" x2="515.5" y2="301.5" stroke="#ff0000" stroke-width="1.2" stroke-dasharray="2.6 0.8"/>
<line x1="510.3" y1="301.5" x2="520.7" y2="301.5" stroke="#ff0000" stroke-width="1.4" />
<rect x="505.3" y="247.4" width="20.8" height="13.5" fill="none" stroke="#ff0000" stroke-width="1.3"/>
<line x1="505.3" y1="247.4" x2="526.1" y2="247.4" stroke="#ff0000" stroke-width="1.3" />
<line x1="512" y1="259.1" x2="519" y2="259.1" stroke="#ff0000" stroke-width="1.2" />
<line x1="515.5" y1="255.6" x2="515.5" y2="262.6" stroke="#ff0000" stroke-width="1.2" />
<line x1="556" y1="266.4" x2="556" y2="318.6" stroke="#1e90ff" stroke-width="1.2" stroke-dasharray="2.6 0.8"/>
<line x1="550.3" y1="318.6" x2="561.5" y2="318.6" stroke="#1e90ff" stroke-width="1.4" />
<rect x="545.4" y="248" width="21" height="18.4" fill="none" stroke="#1e90ff" stroke-width="1.3"/>
<line x1="545.4" y1="249.9" x2="566.4" y2="249.9" stroke="#1e90ff" stroke-width="1.3" />
<line x1="596.2" y1="270.7" x2="596.2" y2="307.5" stroke="#ff0000" stroke-width="1.2" stroke-dasharray="2.6 0.8"/>
<line x1="590.5" y1="307.5" x2="601.5" y2="307.5" stroke="#ff0000" stroke-width="1.4" />
<rect x="586" y="247.3" width="20.5" height="23.4" fill="none" stroke="#ff0000" stroke-width="1.3"/>
<line x1="586" y1="247.3" x2="606.5" y2="247.3" stroke="#ff0000" stroke-width="1.3" />
<line x1="592.7" y1="259.7" x2="599.7" y2="259.7" stroke="#ff0000" stroke-width="1.2" />
<line x1="596.2" y1="256.2" x2="596.2" y2="263.2" stroke="#ff0000" stroke-width="1.2" />
<line x1="636.6" y1="259.7" x2="636.6" y2="309.4" stroke="#1e90ff" stroke-width="1.2" stroke-dasharray="2.6 0.8"/>
<line x1="631.5" y1="309.4" x2="641.8" y2="309.4" stroke="#1e90ff" stroke-width="1.4" />
<rect x="626.3" y="247.3" width="21.2" height="12.4" fill="none" stroke="#1e90ff" stroke-width="1.3"/>
<line x1="626.3" y1="248.5" x2="647.5" y2="248.5" stroke="#1e90ff" stroke-width="1.3" />
<line x1="676.5" y1="277.9" x2="676.5" y2="310.2" stroke="#ff0000" stroke-width="1.2" stroke-dasharray="2.6 0.8"/>
<line x1="671" y1="310.2" x2="681.8" y2="310.2" stroke="#ff0000" stroke-width="1.4" />
<rect x="666.3" y="247.3" width="20.4" height="30.6" fill="none" stroke="#ff0000" stroke-width="1.3"/>
<line x1="666.3" y1="247.3" x2="686.7" y2="247.3" stroke="#ff0000" stroke-width="1.3" />
<line x1="673" y1="263" x2="680" y2="263" stroke="#ff0000" stroke-width="1.2" />
<line x1="676.5" y1="259.5" x2="676.5" y2="266.5" stroke="#ff0000" stroke-width="1.2" />
<line x1="717.1" y1="250.2" x2="717.1" y2="307.5" stroke="#1e90ff" stroke-width="1.2" stroke-dasharray="2.6 0.8"/>
<line x1="712" y1="307.5" x2="722.4" y2="307.5" stroke="#1e90ff" stroke-width="1.4" />
<rect x="706.3" y="247.3" width="21.2" height="2.9" fill="none" stroke="#1e90ff" stroke-width="1.3"/>
<line x1="706.3" y1="247.3" x2="727.5" y2="247.3" stroke="#1e90ff" stroke-width="1.3" />
<line x1="757.3" y1="247.6" x2="757.3" y2="303.1" stroke="#ff0000" stroke-width="1.2" stroke-dasharray="2.6 0.8"/>
<line x1="752.1" y1="303.1" x2="762.5" y2="303.1" stroke="#ff0000" stroke-width="1.4" />
<rect x="746.3" y="247.3" width="21.2" height="0.3" fill="none" stroke="#ff0000" stroke-width="1.3"/>
<line x1="746.3" y1="247.3" x2="767.5" y2="247.3" stroke="#ff0000" stroke-width="1.3" />
<defs><clipPath id="cA"><rect x="40" y="23.1" width="335" height="160"/></clipPath><clipPath id="cB"><rect x="445" y="23.3" width="320" height="160"/></clipPath></defs>
<g clip-path="url(#cA)">
<path d="M77 21.8L80.4 25.2L77 28.6L73.6 25.2Z" fill="#1c82f4" stroke="#0c6ce2" stroke-width="0.8" />
<path d="M80.4 21.8L83.8 25.2L80.4 28.6L77 25.2Z" fill="#1c82f4" stroke="#0c6ce2" stroke-width="0.8" />
<path d="M83.8 21.8L87.2 25.2L83.8 28.6L80.4 25.2Z" fill="#1c82f4" stroke="#0c6ce2" stroke-width="0.8" />
<path d="M87.2 21.8L90.6 25.2L87.2 28.6L83.8 25.2Z" fill="#1c82f4" stroke="#0c6ce2" stroke-width="0.8" />
<path d="M90.6 21.8L94 25.2L90.6 28.6L87.2 25.2Z" fill="#1c82f4" stroke="#0c6ce2" stroke-width="0.8" />
<path d="M94 21.8L97.4 25.2L94 28.6L90.6 25.2Z" fill="#1c82f4" stroke="#0c6ce2" stroke-width="0.8" />
<path d="M97.4 21.8L100.8 25.2L97.4 28.6L94 25.2Z" fill="#1c82f4" stroke="#0c6ce2" stroke-width="0.8" />
<path d="M100.8 21.8L104.2 25.2L100.8 28.6L97.4 25.2Z" fill="#1c82f4" stroke="#0c6ce2" stroke-width="0.8" />
<path d="M73.2 30.1L76.6 33.5L73.2 36.9L69.8 33.5Z" fill="#1c82f4" stroke="#0c6ce2" stroke-width="0.8" />
<path d="M78.1 32.6L81.5 36L78.1 39.4L74.7 36Z" fill="#1c82f4" stroke="#0c6ce2" stroke-width="0.8" />
<path d="M84.3 28.9L87.7 32.3L84.3 35.7L80.9 32.3Z" fill="#1c82f4" stroke="#0c6ce2" stroke-width="0.8" />
<path d="M88.7 27L92.1 30.4L88.7 33.8L85.3 30.4Z" fill="#1c82f4" stroke="#0c6ce2" stroke-width="0.8" />
<path d="M93.6 29.5L97 32.9L93.6 36.3L90.2 32.9Z" fill="#1c82f4" stroke="#0c6ce2" stroke-width="0.8" />
<path d="M101.1 26.4L104.5 29.8L101.1 33.2L97.7 29.8Z" fill="#1c82f4" stroke="#0c6ce2" stroke-width="0.8" />
<path d="M73.9 43.7L77.3 47.1L73.9 50.5L70.5 47.1Z" fill="#1c82f4" stroke="#0c6ce2" stroke-width="0.8" />
<path d="M87.7 45.6L91.1 49L87.7 52.4L84.3 49Z" fill="#1c82f4" stroke="#0c6ce2" stroke-width="0.8" />
<path d="M78.2 59.5L81.6 62.9L78.2 66.3L74.8 62.9Z" fill="#1c82f4" stroke="#0c6ce2" stroke-width="0.8" />
<path d="M93.7 80.7L97.1 84.1L93.7 87.5L90.3 84.1Z" fill="#1c82f4" stroke="#0c6ce2" stroke-width="0.8" />
<path d="M94.9 89.1L98.3 92.5L94.9 95.9L91.5 92.5Z" fill="#1c82f4" stroke="#0c6ce2" stroke-width="0.8" />
<path d="M84.7 121.2L88.1 124.6L84.7 128L81.3 124.6Z" fill="#1c82f4" stroke="#0c6ce2" stroke-width="0.8" />
<path d="M157 21.8L160.4 25.2L157 28.6L153.6 25.2Z" fill="#1c82f4" stroke="#0c6ce2" stroke-width="0.8" />
<path d="M160.4 21.8L163.8 25.2L160.4 28.6L157 25.2Z" fill="#1c82f4" stroke="#0c6ce2" stroke-width="0.8" />
<path d="M163.8 21.8L167.2 25.2L163.8 28.6L160.4 25.2Z" fill="#1c82f4" stroke="#0c6ce2" stroke-width="0.8" />
<path d="M167.2 21.8L170.6 25.2L167.2 28.6L163.8 25.2Z" fill="#1c82f4" stroke="#0c6ce2" stroke-width="0.8" />
<path d="M170.6 21.8L174 25.2L170.6 28.6L167.2 25.2Z" fill="#1c82f4" stroke="#0c6ce2" stroke-width="0.8" />
<path d="M174 21.8L177.4 25.2L174 28.6L170.6 25.2Z" fill="#1c82f4" stroke="#0c6ce2" stroke-width="0.8" />
<path d="M177.4 21.8L180.8 25.2L177.4 28.6L174 25.2Z" fill="#1c82f4" stroke="#0c6ce2" stroke-width="0.8" />
<path d="M180.8 21.8L184.2 25.2L180.8 28.6L177.4 25.2Z" fill="#1c82f4" stroke="#0c6ce2" stroke-width="0.8" />
<path d="M160 24.4L163.4 27.8L160 31.2L156.6 27.8Z" fill="#1c82f4" stroke="#0c6ce2" stroke-width="0.8" />
<path d="M165.5 24.4L168.9 27.8L165.5 31.2L162.1 27.8Z" fill="#1c82f4" stroke="#0c6ce2" stroke-width="0.8" />
<path d="M171 24.4L174.4 27.8L171 31.2L167.6 27.8Z" fill="#1c82f4" stroke="#0c6ce2" stroke-width="0.8" />
<path d="M176.5 24.4L179.9 27.8L176.5 31.2L173.1 27.8Z" fill="#1c82f4" stroke="#0c6ce2" stroke-width="0.8" />
<path d="M182 24.4L185.4 27.8L182 31.2L178.6 27.8Z" fill="#1c82f4" stroke="#0c6ce2" stroke-width="0.8" />
<path d="M154.4 28L157.8 31.4L154.4 34.8L151 31.4Z" fill="#1c82f4" stroke="#0c6ce2" stroke-width="0.8" />
<path d="M159.7 25.1L163.1 28.5L159.7 31.9L156.3 28.5Z" fill="#1c82f4" stroke="#0c6ce2" stroke-width="0.8" />
<path d="M164 24.1L167.4 27.5L164 30.9L160.6 27.5Z" fill="#1c82f4" stroke="#0c6ce2" stroke-width="0.8" />
<path d="M171.6 27L175 30.4L171.6 33.8L168.2 30.4Z" fill="#1c82f4" stroke="#0c6ce2" stroke-width="0.8" />
<path d="M180.2 27L183.6 30.4L180.2 33.8L176.8 30.4Z" fill="#1c82f4" stroke="#0c6ce2" stroke-width="0.8" />
<path d="M182 24.1L185.4 27.5L182 30.9L178.6 27.5Z" fill="#1c82f4" stroke="#0c6ce2" stroke-width="0.8" />
<path d="M168 27.6L171.4 31L168 34.4L164.6 31Z" fill="#1c82f4" stroke="#0c6ce2" stroke-width="0.8" />
<path d="M176 25.6L179.4 29L176 32.4L172.6 29Z" fill="#1c82f4" stroke="#0c6ce2" stroke-width="0.8" />
<path d="M159.2 35.6L162.6 39L159.2 42.4L155.8 39Z" fill="#1c82f4" stroke="#0c6ce2" stroke-width="0.8" />
<path d="M161 38.5L164.4 41.9L161 45.3L157.6 41.9Z" fill="#1c82f4" stroke="#0c6ce2" stroke-width="0.8" />
<path d="M165.9 34.6L169.3 38L165.9 41.4L162.5 38Z" fill="#1c82f4" stroke="#0c6ce2" stroke-width="0.8" />
<path d="M170.6 36.6L174 40L170.6 43.4L167.2 40Z" fill="#1c82f4" stroke="#0c6ce2" stroke-width="0.8" />
<path d="M168.7 32.7L172.1 36.1L168.7 39.5L165.3 36.1Z" fill="#1c82f4" stroke="#0c6ce2" stroke-width="0.8" />
<path d="M164.9 39.4L168.3 42.8L164.9 46.2L161.5 42.8Z" fill="#1c82f4" stroke="#0c6ce2" stroke-width="0.8" />
<path d="M162 33.6L165.4 37L162 40.4L158.6 37Z" fill="#1c82f4" stroke="#0c6ce2" stroke-width="0.8" />
<path d="M172 33.6L175.4 37L172 40.4L168.6 37Z" fill="#1c82f4" stroke="#0c6ce2" stroke-width="0.8" />
<path d="M166.8 42.7L170.2 46.1L166.8 49.5L163.4 46.1Z" fill="#1c82f4" stroke="#0c6ce2" stroke-width="0.8" />
<path d="M164 47.5L167.4 50.9L164 54.3L160.6 50.9Z" fill="#1c82f4" stroke="#0c6ce2" stroke-width="0.8" />
<path d="M181.1 39.9L184.5 43.3L181.1 46.7L177.7 43.3Z" fill="#1c82f4" stroke="#0c6ce2" stroke-width="0.8" />
<path d="M175.9 45.1L179.3 48.5L175.9 51.9L172.5 48.5Z" fill="#1c82f4" stroke="#0c6ce2" stroke-width="0.8" />
<path d="M163.7 48.5L167.1 51.9L163.7 55.3L160.3 51.9Z" fill="#1c82f4" stroke="#0c6ce2" stroke-width="0.8" />
<path d="M176.9 52.5L180.3 55.9L176.9 59.3L173.5 55.9Z" fill="#1c82f4" stroke="#0c6ce2" stroke-width="0.8" />
<path d="M155.2 55.9L158.6 59.3L155.2 62.7L151.8 59.3Z" fill="#1c82f4" stroke="#0c6ce2" stroke-width="0.8" />
<path d="M158.8 58.7L162.2 62.1L158.8 65.5L155.4 62.1Z" fill="#1c82f4" stroke="#0c6ce2" stroke-width="0.8" />
<path d="M168.1 59.5L171.5 62.9L168.1 66.3L164.7 62.9Z" fill="#1c82f4" stroke="#0c6ce2" stroke-width="0.8" />
<path d="M179.6 62.1L183 65.5L179.6 68.9L176.2 65.5Z" fill="#1c82f4" stroke="#0c6ce2" stroke-width="0.8" />
<path d="M175.4 69.6L178.8 73L175.4 76.4L172 73Z" fill="#1c82f4" stroke="#0c6ce2" stroke-width="0.8" />
<path d="M176.2 74.2L179.6 77.6L176.2 81L172.8 77.6Z" fill="#1c82f4" stroke="#0c6ce2" stroke-width="0.8" />
<path d="M155.7 93.2L159.1 96.6L155.7 100L152.3 96.6Z" fill="#1c82f4" stroke="#0c6ce2" stroke-width="0.8" />
<path d="M157.5 95.5L160.9 98.9L157.5 102.3L154.1 98.9Z" fill="#1c82f4" stroke="#0c6ce2" stroke-width="0.8" />
<path d="M176.2 94L179.6 97.4L176.2 100.8L172.8 97.4Z" fill="#1c82f4" stroke="#0c6ce2" stroke-width="0.8" />
<path d="M153.2 106.4L156.6 109.8L153.2 113.2L149.8 109.8Z" fill="#1c82f4" stroke="#0c6ce2" stroke-width="0.8" />
<path d="M232 21.8L235.4 25.2L232 28.6L228.6 25.2Z" fill="#1c82f4" stroke="#0c6ce2" stroke-width="0.8" />
<path d="M235.4 21.8L238.8 25.2L235.4 28.6L232 25.2Z" fill="#1c82f4" stroke="#0c6ce2" stroke-width="0.8" />
<path d="M238.8 21.8L242.2 25.2L238.8 28.6L235.4 25.2Z" fill="#1c82f4" stroke="#0c6ce2" stroke-width="0.8" />
<path d="M242.2 21.8L245.6 25.2L242.2 28.6L238.8 25.2Z" fill="#1c82f4" stroke="#0c6ce2" stroke-width="0.8" />
<path d="M245.6 21.8L249 25.2L245.6 28.6L242.2 25.2Z" fill="#1c82f4" stroke="#0c6ce2" stroke-width="0.8" />
<path d="M249 21.8L252.4 25.2L249 28.6L245.6 25.2Z" fill="#1c82f4" stroke="#0c6ce2" stroke-width="0.8" />
<path d="M252.4 21.8L255.8 25.2L252.4 28.6L249 25.2Z" fill="#1c82f4" stroke="#0c6ce2" stroke-width="0.8" />
<path d="M255.8 21.8L259.2 25.2L255.8 28.6L252.4 25.2Z" fill="#1c82f4" stroke="#0c6ce2" stroke-width="0.8" />
<path d="M259.2 21.8L262.6 25.2L259.2 28.6L255.8 25.2Z" fill="#1c82f4" stroke="#0c6ce2" stroke-width="0.8" />
<path d="M262.6 21.8L266 25.2L262.6 28.6L259.2 25.2Z" fill="#1c82f4" stroke="#0c6ce2" stroke-width="0.8" />
<path d="M233.8 23.3L237.2 26.7L233.8 30.1L230.4 26.7Z" fill="#1c82f4" stroke="#0c6ce2" stroke-width="0.8" />
<path d="M235.6 27L239 30.4L235.6 33.8L232.2 30.4Z" fill="#1c82f4" stroke="#0c6ce2" stroke-width="0.8" />
<path d="M238.1 30.1L241.5 33.5L238.1 36.9L234.7 33.5Z" fill="#1c82f4" stroke="#0c6ce2" stroke-width="0.8" />
<path d="M240.6 33.8L244 37.2L240.6 40.6L237.2 37.2Z" fill="#1c82f4" stroke="#0c6ce2" stroke-width="0.8" />
<path d="M245 28.9L248.4 32.3L245 35.7L241.6 32.3Z" fill="#1c82f4" stroke="#0c6ce2" stroke-width="0.8" />
<path d="M251.8 29.5L255.2 32.9L251.8 36.3L248.4 32.9Z" fill="#1c82f4" stroke="#0c6ce2" stroke-width="0.8" />
<path d="M254.9 33.8L258.3 37.2L254.9 40.6L251.5 37.2Z" fill="#1c82f4" stroke="#0c6ce2" stroke-width="0.8" />
<path d="M261.7 30.1L265.1 33.5L261.7 36.9L258.3 33.5Z" fill="#1c82f4" stroke="#0c6ce2" stroke-width="0.8" />
<path d="M259.2 27L262.6 30.4L259.2 33.8L255.8 30.4Z" fill="#1c82f4" stroke="#0c6ce2" stroke-width="0.8" />
<path d="M248 25.1L251.4 28.5L248 31.9L244.6 28.5Z" fill="#1c82f4" stroke="#0c6ce2" stroke-width="0.8" />
<path d="M242 40.4L245.4 43.8L242 47.2L238.6 43.8Z" fill="#1c82f4" stroke="#0c6ce2" stroke-width="0.8" />
<path d="M244.9 44.2L248.3 47.6L244.9 51L241.5 47.6Z" fill="#1c82f4" stroke="#0c6ce2" stroke-width="0.8" />
<path d="M234.4 43.3L237.8 46.7L234.4 50.1L231 46.7Z" fill="#1c82f4" stroke="#0c6ce2" stroke-width="0.8" />
<path d="M251.1 44.4L254.5 47.8L251.1 51.2L247.7 47.8Z" fill="#1c82f4" stroke="#0c6ce2" stroke-width="0.8" />
<path d="M250.6 53.6L254 57L250.6 60.4L247.2 57Z" fill="#1c82f4" stroke="#0c6ce2" stroke-width="0.8" />
<path d="M258.7 54.5L262.1 57.9L258.7 61.3L255.3 57.9Z" fill="#1c82f4" stroke="#0c6ce2" stroke-width="0.8" />
<path d="M237.7 62.2L241.1 65.6L237.7 69L234.3 65.6Z" fill="#1c82f4" stroke="#0c6ce2" stroke-width="0.8" />
<path d="M251.2 68.8L254.6 72.2L251.2 75.6L247.8 72.2Z" fill="#1c82f4" stroke="#0c6ce2" stroke-width="0.8" />
<path d="M235.7 76.3L239.1 79.7L235.7 83.1L232.3 79.7Z" fill="#1c82f4" stroke="#0c6ce2" stroke-width="0.8" />
<path d="M242.9 78.7L246.3 82.1L242.9 85.5L239.5 82.1Z" fill="#1c82f4" stroke="#0c6ce2" stroke-width="0.8" />
<path d="M242.9 87.2L246.3 90.6L242.9 94L239.5 90.6Z" fill="#1c82f4" stroke="#0c6ce2" stroke-width="0.8" />
<path d="M248.8 89.2L252.2 92.6L248.8 96L245.4 92.6Z" fill="#1c82f4" stroke="#0c6ce2" stroke-width="0.8" />
<path d="M235 91.7L238.4 95.1L235 98.5L231.6 95.1Z" fill="#1c82f4" stroke="#0c6ce2" stroke-width="0.8" />
<path d="M252.1 96.4L255.5 99.8L252.1 103.2L248.7 99.8Z" fill="#1c82f4" stroke="#0c6ce2" stroke-width="0.8" />
<path d="M261.6 121.5L265 124.9L261.6 128.3L258.2 124.9Z" fill="#1c82f4" stroke="#0c6ce2" stroke-width="0.8" />
<path d="M314 21.8L317.4 25.2L314 28.6L310.6 25.2Z" fill="#1c82f4" stroke="#0c6ce2" stroke-width="0.8" />
<path d="M317.4 21.8L320.8 25.2L317.4 28.6L314 25.2Z" fill="#1c82f4" stroke="#0c6ce2" stroke-width="0.8" />
<path d="M320.8 21.8L324.2 25.2L320.8 28.6L317.4 25.2Z" fill="#1c82f4" stroke="#0c6ce2" stroke-width="0.8" />
<path d="M324.2 21.8L327.6 25.2L324.2 28.6L320.8 25.2Z" fill="#1c82f4" stroke="#0c6ce2" stroke-width="0.8" />
<path d="M327.6 21.8L331 25.2L327.6 28.6L324.2 25.2Z" fill="#1c82f4" stroke="#0c6ce2" stroke-width="0.8" />
<path d="M331 21.8L334.4 25.2L331 28.6L327.6 25.2Z" fill="#1c82f4" stroke="#0c6ce2" stroke-width="0.8" />
<path d="M334.4 21.8L337.8 25.2L334.4 28.6L331 25.2Z" fill="#1c82f4" stroke="#0c6ce2" stroke-width="0.8" />
<path d="M337.8 21.8L341.2 25.2L337.8 28.6L334.4 25.2Z" fill="#1c82f4" stroke="#0c6ce2" stroke-width="0.8" />
<path d="M341.2 21.8L344.6 25.2L341.2 28.6L337.8 25.2Z" fill="#1c82f4" stroke="#0c6ce2" stroke-width="0.8" />
<path d="M315 26.4L318.4 29.8L315 33.2L311.6 29.8Z" fill="#1c82f4" stroke="#0c6ce2" stroke-width="0.8" />
<path d="M318.1 28.9L321.5 32.3L318.1 35.7L314.7 32.3Z" fill="#1c82f4" stroke="#0c6ce2" stroke-width="0.8" />
<path d="M323.2 32.9L326.6 36.3L323.2 39.7L319.8 36.3Z" fill="#1c82f4" stroke="#0c6ce2" stroke-width="0.8" />
<path d="M326.5 37.2L329.9 40.6L326.5 44L323.1 40.6Z" fill="#1c82f4" stroke="#0c6ce2" stroke-width="0.8" />
<path d="M333 38.8L336.4 42.2L333 45.6L329.6 42.2Z" fill="#1c82f4" stroke="#0c6ce2" stroke-width="0.8" />
<path d="M332.4 28.2L335.8 31.6L332.4 35L329 31.6Z" fill="#1c82f4" stroke="#0c6ce2" stroke-width="0.8" />
<path d="M336.1 25.8L339.5 29.2L336.1 32.6L332.7 29.2Z" fill="#1c82f4" stroke="#0c6ce2" stroke-width="0.8" />
<path d="M339.2 28.2L342.6 31.6L339.2 35L335.8 31.6Z" fill="#1c82f4" stroke="#0c6ce2" stroke-width="0.8" />
<path d="M340.5 30.7L343.9 34.1L340.5 37.5L337.1 34.1Z" fill="#1c82f4" stroke="#0c6ce2" stroke-width="0.8" />
<path d="M334.9 31.3L338.3 34.7L334.9 38.1L331.5 34.7Z" fill="#1c82f4" stroke="#0c6ce2" stroke-width="0.8" />
<path d="M321.2 44.4L324.6 47.8L321.2 51.2L317.8 47.8Z" fill="#1c82f4" stroke="#0c6ce2" stroke-width="0.8" />
<path d="M318.7 47.5L322.1 50.9L318.7 54.3L315.3 50.9Z" fill="#1c82f4" stroke="#0c6ce2" stroke-width="0.8" />
<path d="M327.4 47.1L330.8 50.5L327.4 53.9L324 50.5Z" fill="#1c82f4" stroke="#0c6ce2" stroke-width="0.8" />
<path d="M335.5 44.4L338.9 47.8L335.5 51.2L332.1 47.8Z" fill="#1c82f4" stroke="#0c6ce2" stroke-width="0.8" />
<path d="M339.2 47.5L342.6 50.9L339.2 54.3L335.8 50.9Z" fill="#1c82f4" stroke="#0c6ce2" stroke-width="0.8" />
<path d="M341.7 50L345.1 53.4L341.7 56.8L338.3 53.4Z" fill="#1c82f4" stroke="#0c6ce2" stroke-width="0.8" />
<path d="M314.5 54.1L317.9 57.5L314.5 60.9L311.1 57.5Z" fill="#1c82f4" stroke="#0c6ce2" stroke-width="0.8" />
<path d="M337.1 54.9L340.5 58.3L337.1 61.7L333.7 58.3Z" fill="#1c82f4" stroke="#0c6ce2" stroke-width="0.8" />
<path d="M342.1 58.8L345.5 62.2L342.1 65.6L338.7 62.2Z" fill="#1c82f4" stroke="#0c6ce2" stroke-width="0.8" />
<path d="M318.7 85L322.1 88.4L318.7 91.8L315.3 88.4Z" fill="#1c82f4" stroke="#0c6ce2" stroke-width="0.8" />
<path d="M317.9 92.6L321.3 96L317.9 99.4L314.5 96Z" fill="#1c82f4" stroke="#0c6ce2" stroke-width="0.8" />
<path d="M336.6 110.5L340 113.9L336.6 117.3L333.2 113.9Z" fill="#1c82f4" stroke="#0c6ce2" stroke-width="0.8" />
</g><g clip-path="url(#cB)">
<path d="M478 21.3L481.4 24.7L478 28.1L474.6 24.7Z" fill="#1c82f4" stroke="#0c6ce2" stroke-width="0.8" />
<path d="M481 21.3L484.4 24.7L481 28.1L477.6 24.7Z" fill="#1c82f4" stroke="#0c6ce2" stroke-width="0.8" />
<path d="M484 21.3L487.4 24.7L484 28.1L480.6 24.7Z" fill="#1c82f4" stroke="#0c6ce2" stroke-width="0.8" />
<path d="M487 21.3L490.4 24.7L487 28.1L483.6 24.7Z" fill="#1c82f4" stroke="#0c6ce2" stroke-width="0.8" />
<path d="M490 21.3L493.4 24.7L490 28.1L486.6 24.7Z" fill="#1c82f4" stroke="#0c6ce2" stroke-width="0.8" />
<path d="M493 21.3L496.4 24.7L493 28.1L489.6 24.7Z" fill="#1c82f4" stroke="#0c6ce2" stroke-width="0.8" />
<path d="M496 21.3L499.4 24.7L496 28.1L492.6 24.7Z" fill="#1c82f4" stroke="#0c6ce2" stroke-width="0.8" />
<path d="M499 21.3L502.4 24.7L499 28.1L495.6 24.7Z" fill="#1c82f4" stroke="#0c6ce2" stroke-width="0.8" />
<path d="M502 21.3L505.4 24.7L502 28.1L498.6 24.7Z" fill="#1c82f4" stroke="#0c6ce2" stroke-width="0.8" />
<path d="M483 28.2L486.4 31.6L483 35L479.6 31.6Z" fill="#1c82f4" stroke="#0c6ce2" stroke-width="0.8" />
<path d="M499.7 27.6L503.1 31L499.7 34.4L496.3 31Z" fill="#1c82f4" stroke="#0c6ce2" stroke-width="0.8" />
<path d="M501.6 25.1L505 28.5L501.6 31.9L498.2 28.5Z" fill="#1c82f4" stroke="#0c6ce2" stroke-width="0.8" />
<path d="M491 31.7L494.4 35.1L491 38.5L487.6 35.1Z" fill="#1c82f4" stroke="#0c6ce2" stroke-width="0.8" />
<path d="M496.6 35.1L500 38.5L496.6 41.9L493.2 38.5Z" fill="#1c82f4" stroke="#0c6ce2" stroke-width="0.8" />
<path d="M497 42.5L500.4 45.9L497 49.3L493.6 45.9Z" fill="#1c82f4" stroke="#0c6ce2" stroke-width="0.8" />
<path d="M497 50.6L500.4 54L497 57.4L493.6 54Z" fill="#1c82f4" stroke="#0c6ce2" stroke-width="0.8" />
<path d="M490.4 53.9L493.8 57.3L490.4 60.7L487 57.3Z" fill="#1c82f4" stroke="#0c6ce2" stroke-width="0.8" />
<path d="M501.6 56.3L505 59.7L501.6 63.1L498.2 59.7Z" fill="#1c82f4" stroke="#0c6ce2" stroke-width="0.8" />
<path d="M501.5 61.8L504.9 65.2L501.5 68.6L498.1 65.2Z" fill="#1c82f4" stroke="#0c6ce2" stroke-width="0.8" />
<path d="M483.7 65.6L487.1 69L483.7 72.4L480.3 69Z" fill="#1c82f4" stroke="#0c6ce2" stroke-width="0.8" />
<path d="M499.6 69.2L503 72.6L499.6 76L496.2 72.6Z" fill="#1c82f4" stroke="#0c6ce2" stroke-width="0.8" />
<path d="M490.1 103.9L493.5 107.3L490.1 110.7L486.7 107.3Z" fill="#1c82f4" stroke="#0c6ce2" stroke-width="0.8" />
<path d="M554 21.3L557.4 24.7L554 28.1L550.6 24.7Z" fill="#1c82f4" stroke="#0c6ce2" stroke-width="0.8" />
<path d="M557.1 21.3L560.5 24.7L557.1 28.1L553.7 24.7Z" fill="#1c82f4" stroke="#0c6ce2" stroke-width="0.8" />
<path d="M560.2 21.3L563.6 24.7L560.2 28.1L556.8 24.7Z" fill="#1c82f4" stroke="#0c6ce2" stroke-width="0.8" />
<path d="M563.3 21.3L566.7 24.7L563.3 28.1L559.9 24.7Z" fill="#1c82f4" stroke="#0c6ce2" stroke-width="0.8" />
<path d="M566.4 21.3L569.8 24.7L566.4 28.1L563 24.7Z" fill="#1c82f4" stroke="#0c6ce2" stroke-width="0.8" />
<path d="M569.5 21.3L572.9 24.7L569.5 28.1L566.1 24.7Z" fill="#1c82f4" stroke="#0c6ce2" stroke-width="0.8" />
<path d="M572.6 21.3L576 24.7L572.6 28.1L569.2 24.7Z" fill="#1c82f4" stroke="#0c6ce2" stroke-width="0.8" />
<path d="M575.7 21.3L579.1 24.7L575.7 28.1L572.3 24.7Z" fill="#1c82f4" stroke="#0c6ce2" stroke-width="0.8" />
<path d="M557.1 26.4L560.5 29.8L557.1 33.2L553.7 29.8Z" fill="#1c82f4" stroke="#0c6ce2" stroke-width="0.8" />
<path d="M559.6 28.2L563 31.6L559.6 35L556.2 31.6Z" fill="#1c82f4" stroke="#0c6ce2" stroke-width="0.8" />
<path d="M562.1 32L565.5 35.4L562.1 38.8L558.7 35.4Z" fill="#1c82f4" stroke="#0c6ce2" stroke-width="0.8" />
<path d="M562.7 34.5L566.1 37.9L562.7 41.3L559.3 37.9Z" fill="#1c82f4" stroke="#0c6ce2" stroke-width="0.8" />
<path d="M567.7 32.6L571.1 36L567.7 39.4L564.3 36Z" fill="#1c82f4" stroke="#0c6ce2" stroke-width="0.8" />
<path d="M570.8 27L574.2 30.4L570.8 33.8L567.4 30.4Z" fill="#1c82f4" stroke="#0c6ce2" stroke-width="0.8" />
<path d="M573.9 29.5L577.3 32.9L573.9 36.3L570.5 32.9Z" fill="#1c82f4" stroke="#0c6ce2" stroke-width="0.8" />
<path d="M575.7 33.2L579.1 36.6L575.7 40L572.3 36.6Z" fill="#1c82f4" stroke="#0c6ce2" stroke-width="0.8" />
<path d="M577 35.1L580.4 38.5L577 41.9L573.6 38.5Z" fill="#1c82f4" stroke="#0c6ce2" stroke-width="0.8" />
<path d="M572.6 36.9L576 40.3L572.6 43.7L569.2 40.3Z" fill="#1c82f4" stroke="#0c6ce2" stroke-width="0.8" />
<path d="M565.2 37.6L568.6 41L565.2 44.4L561.8 41Z" fill="#1c82f4" stroke="#0c6ce2" stroke-width="0.8" />
<path d="M559 38.2L562.4 41.6L559 45L555.6 41.6Z" fill="#1c82f4" stroke="#0c6ce2" stroke-width="0.8" />
<path d="M556.5 40.7L559.9 44.1L556.5 47.5L553.1 44.1Z" fill="#1c82f4" stroke="#0c6ce2" stroke-width="0.8" />
<path d="M572 48.7L575.4 52.1L572 55.5L568.6 52.1Z" fill="#1c82f4" stroke="#0c6ce2" stroke-width="0.8" />
<path d="M570.2 51.8L573.6 55.2L570.2 58.6L566.8 55.2Z" fill="#1c82f4" stroke="#0c6ce2" stroke-width="0.8" />
<path d="M569.3 54.3L572.7 57.7L569.3 61.1L565.9 57.7Z" fill="#1c82f4" stroke="#0c6ce2" stroke-width="0.8" />
<path d="M574.4 62.8L577.8 66.2L574.4 69.6L571 66.2Z" fill="#1c82f4" stroke="#0c6ce2" stroke-width="0.8" />
<path d="M560.7 81.7L564.1 85.1L560.7 88.5L557.3 85.1Z" fill="#1c82f4" stroke="#0c6ce2" stroke-width="0.8" />
<path d="M571.9 102.9L575.3 106.3L571.9 109.7L568.5 106.3Z" fill="#1c82f4" stroke="#0c6ce2" stroke-width="0.8" />
<path d="M632.5 21.3L635.9 24.7L632.5 28.1L629.1 24.7Z" fill="#1c82f4" stroke="#0c6ce2" stroke-width="0.8" />
<path d="M635.6 21.3L639 24.7L635.6 28.1L632.2 24.7Z" fill="#1c82f4" stroke="#0c6ce2" stroke-width="0.8" />
<path d="M638.7 21.3L642.1 24.7L638.7 28.1L635.3 24.7Z" fill="#1c82f4" stroke="#0c6ce2" stroke-width="0.8" />
<path d="M641.8 21.3L645.2 24.7L641.8 28.1L638.4 24.7Z" fill="#1c82f4" stroke="#0c6ce2" stroke-width="0.8" />
<path d="M644.9 21.3L648.3 24.7L644.9 28.1L641.5 24.7Z" fill="#1c82f4" stroke="#0c6ce2" stroke-width="0.8" />
<path d="M648 21.3L651.4 24.7L648 28.1L644.6 24.7Z" fill="#1c82f4" stroke="#0c6ce2" stroke-width="0.8" />
<path d="M651.1 21.3L654.5 24.7L651.1 28.1L647.7 24.7Z" fill="#1c82f4" stroke="#0c6ce2" stroke-width="0.8" />
<path d="M654.2 21.3L657.6 24.7L654.2 28.1L650.8 24.7Z" fill="#1c82f4" stroke="#0c6ce2" stroke-width="0.8" />
<path d="M633.8 25.3L637.2 28.7L633.8 32.1L630.4 28.7Z" fill="#1c82f4" stroke="#0c6ce2" stroke-width="0.8" />
<path d="M644.5 28.3L647.9 31.7L644.5 35.1L641.1 31.7Z" fill="#1c82f4" stroke="#0c6ce2" stroke-width="0.8" />
<path d="M646 26.1L649.4 29.5L646 32.9L642.6 29.5Z" fill="#1c82f4" stroke="#0c6ce2" stroke-width="0.8" />
<path d="M652.1 26.1L655.5 29.5L652.1 32.9L648.7 29.5Z" fill="#1c82f4" stroke="#0c6ce2" stroke-width="0.8" />
<path d="M652.9 31.4L656.3 34.8L652.9 38.2L649.5 34.8Z" fill="#1c82f4" stroke="#0c6ce2" stroke-width="0.8" />
<path d="M654.4 34.4L657.8 37.8L654.4 41.2L651 37.8Z" fill="#1c82f4" stroke="#0c6ce2" stroke-width="0.8" />
<path d="M636.8 32.5L640.2 35.9L636.8 39.3L633.4 35.9Z" fill="#1c82f4" stroke="#0c6ce2" stroke-width="0.8" />
<path d="M635.3 34.4L638.7 37.8L635.3 41.2L631.9 37.8Z" fill="#1c82f4" stroke="#0c6ce2" stroke-width="0.8" />
<path d="M632.6 36.4L636 39.8L632.6 43.2L629.2 39.8Z" fill="#1c82f4" stroke="#0c6ce2" stroke-width="0.8" />
<path d="M637.2 36.7L640.6 40.1L637.2 43.5L633.8 40.1Z" fill="#1c82f4" stroke="#0c6ce2" stroke-width="0.8" />
<path d="M707.5 22.2L710.9 25.6L707.5 29L704.1 25.6Z" fill="#1c82f4" stroke="#0c6ce2" stroke-width="0.8" />
<path d="M717.8 24.1L721.2 27.5L717.8 30.9L714.4 27.5Z" fill="#1c82f4" stroke="#0c6ce2" stroke-width="0.8" />
<path d="M720.2 24.1L723.6 27.5L720.2 30.9L716.8 27.5Z" fill="#1c82f4" stroke="#0c6ce2" stroke-width="0.8" />
<path d="M727.4 22.2L730.8 25.6L727.4 29L724 25.6Z" fill="#1c82f4" stroke="#0c6ce2" stroke-width="0.8" />
<path d="M710.1 64.8L713.5 68.2L710.1 71.6L706.7 68.2Z" fill="#1c82f4" stroke="#0c6ce2" stroke-width="0.8" />
<path d="M721.3 73.5L724.7 76.9L721.3 80.3L717.9 76.9Z" fill="#1c82f4" stroke="#0c6ce2" stroke-width="0.8" />
</g>
<path d="M80.9 287.6L84.3 291L80.9 294.4L77.5 291Z" fill="#f00000" stroke="#d80000" stroke-width="0.6" />
<path d="M158.6 308.1L162 311.5L158.6 314.9L155.2 311.5Z" fill="#f00000" stroke="#d80000" stroke-width="0.6" />
<path d="M180.5 310.2L183.9 313.6L180.5 317L177.1 313.6Z" fill="#f00000" stroke="#d80000" stroke-width="0.6" />
<path d="M180.1 341L183.5 344.4L180.1 347.8L176.7 344.4Z" fill="#f00000" stroke="#d80000" stroke-width="0.6" />
<path d="M234.6 334.1L238 337.5L234.6 340.9L231.2 337.5Z" fill="#f00000" stroke="#d80000" stroke-width="0.6" />
<path d="M261.5 344.6L264.9 348L261.5 351.4L258.1 348Z" fill="#f00000" stroke="#d80000" stroke-width="0.6" />
<path d="M79.9 250.9L83.3 254.3L79.9 257.7L76.5 254.3Z" fill="#1c82f4" stroke="#0c6ce2" stroke-width="0.8" />
<path d="M84.9 250.9L88.3 254.3L84.9 257.7L81.5 254.3Z" fill="#1c82f4" stroke="#0c6ce2" stroke-width="0.8" />
<path d="M97.1 250.3L100.5 253.7L97.1 257.1L93.7 253.7Z" fill="#1c82f4" stroke="#0c6ce2" stroke-width="0.8" />
<path d="M102.1 247.8L105.5 251.2L102.1 254.6L98.7 251.2Z" fill="#1c82f4" stroke="#0c6ce2" stroke-width="0.8" />
<path d="M87.8 256.6L91.2 260L87.8 263.4L84.4 260Z" fill="#1c82f4" stroke="#0c6ce2" stroke-width="0.8" />
<path d="M95 256.4L98.4 259.8L95 263.2L91.6 259.8Z" fill="#1c82f4" stroke="#0c6ce2" stroke-width="0.8" />
<path d="M89.9 261.4L93.3 264.8L89.9 268.2L86.5 264.8Z" fill="#1c82f4" stroke="#0c6ce2" stroke-width="0.8" />
<path d="M102.8 263.5L106.2 266.9L102.8 270.3L99.4 266.9Z" fill="#1c82f4" stroke="#0c6ce2" stroke-width="0.8" />
<path d="M87.8 267.1L91.2 270.5L87.8 273.9L84.4 270.5Z" fill="#1c82f4" stroke="#0c6ce2" stroke-width="0.8" />
<path d="M85.6 273.3L89 276.7L85.6 280.1L82.2 276.7Z" fill="#1c82f4" stroke="#0c6ce2" stroke-width="0.8" />
<path d="M104.7 273.3L108.1 276.7L104.7 280.1L101.3 276.7Z" fill="#1c82f4" stroke="#0c6ce2" stroke-width="0.8" />
<path d="M89.2 278.6L92.6 282L89.2 285.4L85.8 282Z" fill="#1c82f4" stroke="#0c6ce2" stroke-width="0.8" />
<path d="M105.7 279.6L109.1 283L105.7 286.4L102.3 283Z" fill="#1c82f4" stroke="#0c6ce2" stroke-width="0.8" />
<path d="M75.6 296.9L79 300.3L75.6 303.7L72.2 300.3Z" fill="#1c82f4" stroke="#0c6ce2" stroke-width="0.8" />
<path d="M76.6 301.2L80 304.6L76.6 308L73.2 304.6Z" fill="#1c82f4" stroke="#0c6ce2" stroke-width="0.8" />
<path d="M97.1 297.3L100.5 300.7L97.1 304.1L93.7 300.7Z" fill="#1c82f4" stroke="#0c6ce2" stroke-width="0.8" />
<path d="M97.8 308.4L101.2 311.8L97.8 315.2L94.4 311.8Z" fill="#1c82f4" stroke="#0c6ce2" stroke-width="0.8" />
<path d="M87.8 314.5L91.2 317.9L87.8 321.3L84.4 317.9Z" fill="#1c82f4" stroke="#0c6ce2" stroke-width="0.8" />
<path d="M97.1 314.5L100.5 317.9L97.1 321.3L93.7 317.9Z" fill="#1c82f4" stroke="#0c6ce2" stroke-width="0.8" />
<path d="M91.4 320.7L94.8 324.1L91.4 327.5L88 324.1Z" fill="#1c82f4" stroke="#0c6ce2" stroke-width="0.8" />
<path d="M105 316.7L108.4 320.1L105 323.5L101.6 320.1Z" fill="#1c82f4" stroke="#0c6ce2" stroke-width="0.8" />
<path d="M92.8 316.6L96.2 320L92.8 323.4L89.4 320Z" fill="#1c82f4" stroke="#0c6ce2" stroke-width="0.8" />
<path d="M87.5 331.3L90.9 334.7L87.5 338.1L84.1 334.7Z" fill="#1c82f4" stroke="#0c6ce2" stroke-width="0.8" />
<path d="M99 333.2L102.4 336.6L99 340L95.6 336.6Z" fill="#1c82f4" stroke="#0c6ce2" stroke-width="0.8" />
<path d="M180.8 253L184.2 256.4L180.8 259.8L177.4 256.4Z" fill="#1c82f4" stroke="#0c6ce2" stroke-width="0.8" />
<path d="M184.7 252.3L188.1 255.7L184.7 259.1L181.3 255.7Z" fill="#1c82f4" stroke="#0c6ce2" stroke-width="0.8" />
<path d="M173.7 256.3L177.1 259.7L173.7 263.1L170.3 259.7Z" fill="#1c82f4" stroke="#0c6ce2" stroke-width="0.8" />
<path d="M182.7 265.2L186.1 268.6L182.7 272L179.3 268.6Z" fill="#1c82f4" stroke="#0c6ce2" stroke-width="0.8" />
<path d="M169.4 270.7L172.8 274.1L169.4 277.5L166 274.1Z" fill="#1c82f4" stroke="#0c6ce2" stroke-width="0.8" />
<path d="M183.7 274.5L187.1 277.9L183.7 281.3L180.3 277.9Z" fill="#1c82f4" stroke="#0c6ce2" stroke-width="0.8" />
<path d="M183.7 276.4L187.1 279.8L183.7 283.2L180.3 279.8Z" fill="#1c82f4" stroke="#0c6ce2" stroke-width="0.8" />
<path d="M156.9 276.4L160.3 279.8L156.9 283.2L153.5 279.8Z" fill="#1c82f4" stroke="#0c6ce2" stroke-width="0.8" />
<path d="M160.1 277.4L163.5 280.8L160.1 284.2L156.7 280.8Z" fill="#1c82f4" stroke="#0c6ce2" stroke-width="0.8" />
<path d="M165.1 276.7L168.5 280.1L165.1 283.5L161.7 280.1Z" fill="#1c82f4" stroke="#0c6ce2" stroke-width="0.8" />
<path d="M162.9 279.6L166.3 283L162.9 286.4L159.5 283Z" fill="#1c82f4" stroke="#0c6ce2" stroke-width="0.8" />
<path d="M156.5 283.6L159.9 287L156.5 290.4L153.1 287Z" fill="#1c82f4" stroke="#0c6ce2" stroke-width="0.8" />
<path d="M161.5 282.4L164.9 285.8L161.5 289.2L158.1 285.8Z" fill="#1c82f4" stroke="#0c6ce2" stroke-width="0.8" />
<path d="M165.8 283.8L169.2 287.2L165.8 290.6L162.4 287.2Z" fill="#1c82f4" stroke="#0c6ce2" stroke-width="0.8" />
<path d="M167.9 285.3L171.3 288.7L167.9 292.1L164.5 288.7Z" fill="#1c82f4" stroke="#0c6ce2" stroke-width="0.8" />
<path d="M175.5 281L178.9 284.4L175.5 287.8L172.1 284.4Z" fill="#1c82f4" stroke="#0c6ce2" stroke-width="0.8" />
<path d="M175.8 284.6L179.2 288L175.8 291.4L172.4 288Z" fill="#1c82f4" stroke="#0c6ce2" stroke-width="0.8" />
<path d="M162.2 288.1L165.6 291.5L162.2 294.9L158.8 291.5Z" fill="#1c82f4" stroke="#0c6ce2" stroke-width="0.8" />
<path d="M161.5 292.4L164.9 295.8L161.5 299.2L158.1 295.8Z" fill="#1c82f4" stroke="#0c6ce2" stroke-width="0.8" />
<path d="M173 289.6L176.4 293L173 296.4L169.6 293Z" fill="#1c82f4" stroke="#0c6ce2" stroke-width="0.8" />
<path d="M184.7 288.1L188.1 291.5L184.7 294.9L181.3 291.5Z" fill="#1c82f4" stroke="#0c6ce2" stroke-width="0.8" />
<path d="M177 294.6L180.4 298L177 301.4L173.6 298Z" fill="#1c82f4" stroke="#0c6ce2" stroke-width="0.8" />
<path d="M157.2 296.7L160.6 300.1L157.2 303.5L153.8 300.1Z" fill="#1c82f4" stroke="#0c6ce2" stroke-width="0.8" />
<path d="M160.8 296.7L164.2 300.1L160.8 303.5L157.4 300.1Z" fill="#1c82f4" stroke="#0c6ce2" stroke-width="0.8" />
<path d="M156.5 299.6L159.9 303L156.5 306.4L153.1 303Z" fill="#1c82f4" stroke="#0c6ce2" stroke-width="0.8" />
<path d="M170.1 300.3L173.5 303.7L170.1 307.1L166.7 303.7Z" fill="#1c82f4" stroke="#0c6ce2" stroke-width="0.8" />
<path d="M173.7 301L177.1 304.4L173.7 307.8L170.3 304.4Z" fill="#1c82f4" stroke="#0c6ce2" stroke-width="0.8" />
<path d="M167.9 303.2L171.3 306.6L167.9 310L164.5 306.6Z" fill="#1c82f4" stroke="#0c6ce2" stroke-width="0.8" />
<path d="M170.1 308.8L173.5 312.2L170.1 315.6L166.7 312.2Z" fill="#1c82f4" stroke="#0c6ce2" stroke-width="0.8" />
<path d="M178 307.3L181.4 310.7L178 314.1L174.6 310.7Z" fill="#1c82f4" stroke="#0c6ce2" stroke-width="0.8" />
<path d="M182.3 305.9L185.7 309.3L182.3 312.7L178.9 309.3Z" fill="#1c82f4" stroke="#0c6ce2" stroke-width="0.8" />
<path d="M177.2 313.8L180.6 317.2L177.2 320.6L173.8 317.2Z" fill="#1c82f4" stroke="#0c6ce2" stroke-width="0.8" />
<path d="M164.4 319.2L167.8 322.6L164.4 326L161 322.6Z" fill="#1c82f4" stroke="#0c6ce2" stroke-width="0.8" />
<path d="M183.7 324.1L187.1 327.5L183.7 330.9L180.3 327.5Z" fill="#1c82f4" stroke="#0c6ce2" stroke-width="0.8" />
<path d="M166.1 326L169.5 329.4L166.1 332.8L162.7 329.4Z" fill="#1c82f4" stroke="#0c6ce2" stroke-width="0.8" />
<path d="M179 332.1L182.4 335.5L179 338.9L175.6 335.5Z" fill="#1c82f4" stroke="#0c6ce2" stroke-width="0.8" />
<path d="M155 343.6L158.4 347L155 350.4L151.6 347Z" fill="#1c82f4" stroke="#0c6ce2" stroke-width="0.8" />
<path d="M242.9 249.5L246.3 252.9L242.9 256.3L239.5 252.9Z" fill="#1c82f4" stroke="#0c6ce2" stroke-width="0.8" />
<path d="M254.4 249.5L257.8 252.9L254.4 256.3L251 252.9Z" fill="#1c82f4" stroke="#0c6ce2" stroke-width="0.8" />
<path d="M252.2 256.6L255.6 260L252.2 263.4L248.8 260Z" fill="#1c82f4" stroke="#0c6ce2" stroke-width="0.8" />
<path d="M234 260.6L237.4 264L234 267.4L230.6 264Z" fill="#1c82f4" stroke="#0c6ce2" stroke-width="0.8" />
<path d="M249.4 260.9L252.8 264.3L249.4 267.7L246 264.3Z" fill="#1c82f4" stroke="#0c6ce2" stroke-width="0.8" />
<path d="M245.8 264.5L249.2 267.9L245.8 271.3L242.4 267.9Z" fill="#1c82f4" stroke="#0c6ce2" stroke-width="0.8" />
<path d="M256.5 263.1L259.9 266.5L256.5 269.9L253.1 266.5Z" fill="#1c82f4" stroke="#0c6ce2" stroke-width="0.8" />
<path d="M262.3 260.9L265.7 264.3L262.3 267.7L258.9 264.3Z" fill="#1c82f4" stroke="#0c6ce2" stroke-width="0.8" />
<path d="M259.4 265.9L262.8 269.3L259.4 272.7L256 269.3Z" fill="#1c82f4" stroke="#0c6ce2" stroke-width="0.8" />
<path d="M242.9 269.5L246.3 272.9L242.9 276.3L239.5 272.9Z" fill="#1c82f4" stroke="#0c6ce2" stroke-width="0.8" />
<path d="M246.5 271.7L249.9 275.1L246.5 278.5L243.1 275.1Z" fill="#1c82f4" stroke="#0c6ce2" stroke-width="0.8" />
<path d="M255.1 273.8L258.5 277.2L255.1 280.6L251.7 277.2Z" fill="#1c82f4" stroke="#0c6ce2" stroke-width="0.8" />
<path d="M261.5 271L264.9 274.4L261.5 277.8L258.1 274.4Z" fill="#1c82f4" stroke="#0c6ce2" stroke-width="0.8" />
<path d="M263 275.3L266.4 278.7L263 282.1L259.6 278.7Z" fill="#1c82f4" stroke="#0c6ce2" stroke-width="0.8" />
<path d="M264.4 277.4L267.8 280.8L264.4 284.2L261 280.8Z" fill="#1c82f4" stroke="#0c6ce2" stroke-width="0.8" />
<path d="M237.2 274.5L240.6 277.9L237.2 281.3L233.8 277.9Z" fill="#1c82f4" stroke="#0c6ce2" stroke-width="0.8" />
<path d="M235.8 277.4L239.2 280.8L235.8 284.2L232.4 280.8Z" fill="#1c82f4" stroke="#0c6ce2" stroke-width="0.8" />
<path d="M250.1 276L253.5 279.4L250.1 282.8L246.7 279.4Z" fill="#1c82f4" stroke="#0c6ce2" stroke-width="0.8" />
<path d="M236.9 281L240.3 284.4L236.9 287.8L233.5 284.4Z" fill="#1c82f4" stroke="#0c6ce2" stroke-width="0.8" />
<path d="M243.2 281.3L246.6 284.7L243.2 288.1L239.8 284.7Z" fill="#1c82f4" stroke="#0c6ce2" stroke-width="0.8" />
<path d="M258 282.1L261.4 285.5L258 288.9L254.6 285.5Z" fill="#1c82f4" stroke="#0c6ce2" stroke-width="0.8" />
<path d="M258 286.7L261.4 290.1L258 293.5L254.6 290.1Z" fill="#1c82f4" stroke="#0c6ce2" stroke-width="0.8" />
<path d="M235.8 291.7L239.2 295.1L235.8 298.5L232.4 295.1Z" fill="#1c82f4" stroke="#0c6ce2" stroke-width="0.8" />
<path d="M234.3 294.6L237.7 298L234.3 301.4L230.9 298Z" fill="#1c82f4" stroke="#0c6ce2" stroke-width="0.8" />
<path d="M245.8 295.3L249.2 298.7L245.8 302.1L242.4 298.7Z" fill="#1c82f4" stroke="#0c6ce2" stroke-width="0.8" />
<path d="M253 293.9L256.4 297.3L253 300.7L249.6 297.3Z" fill="#1c82f4" stroke="#0c6ce2" stroke-width="0.8" />
<path d="M260.1 296L263.5 299.4L260.1 302.8L256.7 299.4Z" fill="#1c82f4" stroke="#0c6ce2" stroke-width="0.8" />
<path d="M251.5 298.2L254.9 301.6L251.5 305L248.1 301.6Z" fill="#1c82f4" stroke="#0c6ce2" stroke-width="0.8" />
<path d="M249.4 302L252.8 305.4L249.4 308.8L246 305.4Z" fill="#1c82f4" stroke="#0c6ce2" stroke-width="0.8" />
<path d="M253 303L256.4 306.4L253 309.8L249.6 306.4Z" fill="#1c82f4" stroke="#0c6ce2" stroke-width="0.8" />
<path d="M257 302L260.4 305.4L257 308.8L253.6 305.4Z" fill="#1c82f4" stroke="#0c6ce2" stroke-width="0.8" />
<path d="M240.8 307.1L244.2 310.5L240.8 313.9L237.4 310.5Z" fill="#1c82f4" stroke="#0c6ce2" stroke-width="0.8" />
<path d="M237.9 310.9L241.3 314.3L237.9 317.7L234.5 314.3Z" fill="#1c82f4" stroke="#0c6ce2" stroke-width="0.8" />
<path d="M252.2 310.9L255.6 314.3L252.2 317.7L248.8 314.3Z" fill="#1c82f4" stroke="#0c6ce2" stroke-width="0.8" />
<path d="M255.5 312.6L258.9 316L255.5 319.4L252.1 316Z" fill="#1c82f4" stroke="#0c6ce2" stroke-width="0.8" />
<path d="M259 310.9L262.4 314.3L259 317.7L255.6 314.3Z" fill="#1c82f4" stroke="#0c6ce2" stroke-width="0.8" />
<path d="M244.4 317.4L247.8 320.8L244.4 324.2L241 320.8Z" fill="#1c82f4" stroke="#0c6ce2" stroke-width="0.8" />
<path d="M318.8 244.9L322.2 248.3L318.8 251.7L315.4 248.3Z" fill="#1c82f4" stroke="#0c6ce2" stroke-width="0.8" />
<path d="M328.1 244.9L331.5 248.3L328.1 251.7L324.7 248.3Z" fill="#1c82f4" stroke="#0c6ce2" stroke-width="0.8" />
<path d="M334.5 246.3L337.9 249.7L334.5 253.1L331.1 249.7Z" fill="#1c82f4" stroke="#0c6ce2" stroke-width="0.8" />
<path d="M315.9 252.3L319.3 255.7L315.9 259.1L312.5 255.7Z" fill="#1c82f4" stroke="#0c6ce2" stroke-width="0.8" />
<path d="M327.4 251.8L330.8 255.2L327.4 258.6L324 255.2Z" fill="#1c82f4" stroke="#0c6ce2" stroke-width="0.8" />
<path d="M331 253.8L334.4 257.2L331 260.6L327.6 257.2Z" fill="#1c82f4" stroke="#0c6ce2" stroke-width="0.8" />
<path d="M333.1 255.2L336.5 258.6L333.1 262L329.7 258.6Z" fill="#1c82f4" stroke="#0c6ce2" stroke-width="0.8" />
<path d="M336 256.4L339.4 259.8L336 263.2L332.6 259.8Z" fill="#1c82f4" stroke="#0c6ce2" stroke-width="0.8" />
<path d="M338.8 257.5L342.2 260.9L338.8 264.3L335.4 260.9Z" fill="#1c82f4" stroke="#0c6ce2" stroke-width="0.8" />
<path d="M342.4 253.5L345.8 256.9L342.4 260.3L339 256.9Z" fill="#1c82f4" stroke="#0c6ce2" stroke-width="0.8" />
<path d="M341 258.5L344.4 261.9L341 265.3L337.6 261.9Z" fill="#1c82f4" stroke="#0c6ce2" stroke-width="0.8" />
<path d="M342.4 260.7L345.8 264.1L342.4 267.5L339 264.1Z" fill="#1c82f4" stroke="#0c6ce2" stroke-width="0.8" />
<path d="M333.1 264.2L336.5 267.6L333.1 271L329.7 267.6Z" fill="#1c82f4" stroke="#0c6ce2" stroke-width="0.8" />
<path d="M321.6 265.7L325 269.1L321.6 272.5L318.2 269.1Z" fill="#1c82f4" stroke="#0c6ce2" stroke-width="0.8" />
<path d="M325.2 268.5L328.6 271.9L325.2 275.3L321.8 271.9Z" fill="#1c82f4" stroke="#0c6ce2" stroke-width="0.8" />
<path d="M315.9 270L319.3 273.4L315.9 276.8L312.5 273.4Z" fill="#1c82f4" stroke="#0c6ce2" stroke-width="0.8" />
<path d="M323.1 270.7L326.5 274.1L323.1 277.5L319.7 274.1Z" fill="#1c82f4" stroke="#0c6ce2" stroke-width="0.8" />
<path d="M334.5 283.6L337.9 287L334.5 290.4L331.1 287Z" fill="#1c82f4" stroke="#0c6ce2" stroke-width="0.8" />
<path d="M339.5 283.6L342.9 287L339.5 290.4L336.1 287Z" fill="#1c82f4" stroke="#0c6ce2" stroke-width="0.8" />
<path d="M342.4 282.9L345.8 286.3L342.4 289.7L339 286.3Z" fill="#1c82f4" stroke="#0c6ce2" stroke-width="0.8" />
<path d="M336.7 286.4L340.1 289.8L336.7 293.2L333.3 289.8Z" fill="#1c82f4" stroke="#0c6ce2" stroke-width="0.8" />
<path d="M338.8 288.6L342.2 292L338.8 295.4L335.4 292Z" fill="#1c82f4" stroke="#0c6ce2" stroke-width="0.8" />
<path d="M318 286.4L321.4 289.8L318 293.2L314.6 289.8Z" fill="#1c82f4" stroke="#0c6ce2" stroke-width="0.8" />
<path d="M319.5 296.6L322.9 300L319.5 303.4L316.1 300Z" fill="#1c82f4" stroke="#0c6ce2" stroke-width="0.8" />
<path d="M319.5 299.8L322.9 303.2L319.5 306.6L316.1 303.2Z" fill="#1c82f4" stroke="#0c6ce2" stroke-width="0.8" />
<path d="M330.2 304.9L333.6 308.3L330.2 311.7L326.8 308.3Z" fill="#1c82f4" stroke="#0c6ce2" stroke-width="0.8" />
<path d="M338.1 303.5L341.5 306.9L338.1 310.3L334.7 306.9Z" fill="#1c82f4" stroke="#0c6ce2" stroke-width="0.8" />
<path d="M343.1 307.8L346.5 311.2L343.1 314.6L339.7 311.2Z" fill="#1c82f4" stroke="#0c6ce2" stroke-width="0.8" />
<path d="M314.5 309.2L317.9 312.6L314.5 316L311.1 312.6Z" fill="#1c82f4" stroke="#0c6ce2" stroke-width="0.8" />
<path d="M328.8 311.2L332.2 314.6L328.8 318L325.4 314.6Z" fill="#1c82f4" stroke="#0c6ce2" stroke-width="0.8" />
<path d="M334.5 321.3L337.9 324.7L334.5 328.1L331.1 324.7Z" fill="#1c82f4" stroke="#0c6ce2" stroke-width="0.8" />
<path d="M341 333.9L344.4 337.3L341 340.7L337.6 337.3Z" fill="#1c82f4" stroke="#0c6ce2" stroke-width="0.8" />
<path d="M178.4 338.9L181.8 342.3L178.4 345.7L175 342.3Z" fill="#1c82f4" stroke="#0c6ce2" stroke-width="0.8" />
<path d="M469 244.7L471.1 246.8L469 248.9L466.9 246.8Z" fill="#1c82f4" stroke="#1c82f4" stroke-width="1.1" stroke-linejoin="round"/>
<path d="M471.2 244.7L473.3 246.8L471.2 248.9L469.1 246.8Z" fill="#1c82f4" stroke="#1c82f4" stroke-width="1.1" stroke-linejoin="round"/>
<path d="M473.4 244.7L475.5 246.8L473.4 248.9L471.3 246.8Z" fill="#1c82f4" stroke="#1c82f4" stroke-width="1.1" stroke-linejoin="round"/>
<path d="M475.6 244.7L477.7 246.8L475.6 248.9L473.5 246.8Z" fill="#1c82f4" stroke="#1c82f4" stroke-width="1.1" stroke-linejoin="round"/>
<path d="M477.8 244.7L479.9 246.8L477.8 248.9L475.7 246.8Z" fill="#1c82f4" stroke="#1c82f4" stroke-width="1.1" stroke-linejoin="round"/>
<path d="M480 244.7L482.1 246.8L480 248.9L477.9 246.8Z" fill="#1c82f4" stroke="#1c82f4" stroke-width="1.1" stroke-linejoin="round"/>
<path d="M470 247.1L472.1 249.2L470 251.3L467.9 249.2Z" fill="#1c82f4" stroke="#1c82f4" stroke-width="1.1" stroke-linejoin="round"/>
<path d="M472.2 247.1L474.3 249.2L472.2 251.3L470.1 249.2Z" fill="#1c82f4" stroke="#1c82f4" stroke-width="1.1" stroke-linejoin="round"/>
<path d="M474.4 247.1L476.5 249.2L474.4 251.3L472.3 249.2Z" fill="#1c82f4" stroke="#1c82f4" stroke-width="1.1" stroke-linejoin="round"/>
<path d="M476.6 247.1L478.7 249.2L476.6 251.3L474.5 249.2Z" fill="#1c82f4" stroke="#1c82f4" stroke-width="1.1" stroke-linejoin="round"/>
<path d="M478.8 247.1L480.9 249.2L478.8 251.3L476.7 249.2Z" fill="#1c82f4" stroke="#1c82f4" stroke-width="1.1" stroke-linejoin="round"/>
<path d="M481 247.1L483.1 249.2L481 251.3L478.9 249.2Z" fill="#1c82f4" stroke="#1c82f4" stroke-width="1.1" stroke-linejoin="round"/>
<path d="M471 249.7L473.1 251.8L471 253.9L468.9 251.8Z" fill="#1c82f4" stroke="#1c82f4" stroke-width="1.1" stroke-linejoin="round"/>
<path d="M474 249.7L476.1 251.8L474 253.9L471.9 251.8Z" fill="#1c82f4" stroke="#1c82f4" stroke-width="1.1" stroke-linejoin="round"/>
<path d="M477 249.7L479.1 251.8L477 253.9L474.9 251.8Z" fill="#1c82f4" stroke="#1c82f4" stroke-width="1.1" stroke-linejoin="round"/>
<path d="M480 249.7L482.1 251.8L480 253.9L477.9 251.8Z" fill="#1c82f4" stroke="#1c82f4" stroke-width="1.1" stroke-linejoin="round"/>
<path d="M469.4 253.3L471.5 255.4L469.4 257.5L467.3 255.4Z" fill="#1c82f4" stroke="#1c82f4" stroke-width="1.1" stroke-linejoin="round"/>
<path d="M472 252.9L474.1 255L472 257.1L469.9 255Z" fill="#1c82f4" stroke="#1c82f4" stroke-width="1.1" stroke-linejoin="round"/>
<path d="M474.1 255.2L476.2 257.3L474.1 259.4L472 257.3Z" fill="#1c82f4" stroke="#1c82f4" stroke-width="1.1" stroke-linejoin="round"/>
<path d="M477 252.9L479.1 255L477 257.1L474.9 255Z" fill="#1c82f4" stroke="#1c82f4" stroke-width="1.1" stroke-linejoin="round"/>
<path d="M479.9 253.3L482 255.4L479.9 257.5L477.8 255.4Z" fill="#1c82f4" stroke="#1c82f4" stroke-width="1.1" stroke-linejoin="round"/>
<path d="M482 251.9L484.1 254L482 256.1L479.9 254Z" fill="#1c82f4" stroke="#1c82f4" stroke-width="1.1" stroke-linejoin="round"/>
<path d="M475 257.4L477.1 259.5L475 261.6L472.9 259.5Z" fill="#1c82f4" stroke="#1c82f4" stroke-width="1.1" stroke-linejoin="round"/>
<path d="M469.7 280.8L471.8 282.9L469.7 285L467.6 282.9Z" fill="#1c82f4" stroke="#1c82f4" stroke-width="1.1" stroke-linejoin="round"/>
<path d="M471.6 285.1L473.7 287.2L471.6 289.3L469.5 287.2Z" fill="#1c82f4" stroke="#1c82f4" stroke-width="1.1" stroke-linejoin="round"/>
<path d="M470.1 305.1L472.2 307.2L470.1 309.3L468 307.2Z" fill="#1c82f4" stroke="#1c82f4" stroke-width="1.1" stroke-linejoin="round"/>
<path d="M469.7 307.7L471.8 309.8L469.7 311.9L467.6 309.8Z" fill="#1c82f4" stroke="#1c82f4" stroke-width="1.1" stroke-linejoin="round"/>
<path d="M478.1 302.2L480.2 304.3L478.1 306.4L476 304.3Z" fill="#1c82f4" stroke="#1c82f4" stroke-width="1.1" stroke-linejoin="round"/>
<path d="M479.9 304.9L482 307L479.9 309.1L477.8 307Z" fill="#1c82f4" stroke="#1c82f4" stroke-width="1.1" stroke-linejoin="round"/>
<path d="M550 244.7L552.1 246.8L550 248.9L547.9 246.8Z" fill="#1c82f4" stroke="#1c82f4" stroke-width="1.1" stroke-linejoin="round"/>
<path d="M552 244.7L554.1 246.8L552 248.9L549.9 246.8Z" fill="#1c82f4" stroke="#1c82f4" stroke-width="1.1" stroke-linejoin="round"/>
<path d="M554 244.7L556.1 246.8L554 248.9L551.9 246.8Z" fill="#1c82f4" stroke="#1c82f4" stroke-width="1.1" stroke-linejoin="round"/>
<path d="M556 244.7L558.1 246.8L556 248.9L553.9 246.8Z" fill="#1c82f4" stroke="#1c82f4" stroke-width="1.1" stroke-linejoin="round"/>
<path d="M558 244.7L560.1 246.8L558 248.9L555.9 246.8Z" fill="#1c82f4" stroke="#1c82f4" stroke-width="1.1" stroke-linejoin="round"/>
<path d="M560 244.7L562.1 246.8L560 248.9L557.9 246.8Z" fill="#1c82f4" stroke="#1c82f4" stroke-width="1.1" stroke-linejoin="round"/>
<path d="M562 244.7L564.1 246.8L562 248.9L559.9 246.8Z" fill="#1c82f4" stroke="#1c82f4" stroke-width="1.1" stroke-linejoin="round"/>
<path d="M551 246.9L553.1 249L551 251.1L548.9 249Z" fill="#1c82f4" stroke="#1c82f4" stroke-width="1.1" stroke-linejoin="round"/>
<path d="M553.5 246.9L555.6 249L553.5 251.1L551.4 249Z" fill="#1c82f4" stroke="#1c82f4" stroke-width="1.1" stroke-linejoin="round"/>
<path d="M556 246.9L558.1 249L556 251.1L553.9 249Z" fill="#1c82f4" stroke="#1c82f4" stroke-width="1.1" stroke-linejoin="round"/>
<path d="M558.5 246.9L560.6 249L558.5 251.1L556.4 249Z" fill="#1c82f4" stroke="#1c82f4" stroke-width="1.1" stroke-linejoin="round"/>
<path d="M561 246.9L563.1 249L561 251.1L558.9 249Z" fill="#1c82f4" stroke="#1c82f4" stroke-width="1.1" stroke-linejoin="round"/>
<path d="M551.3 250.4L553.4 252.5L551.3 254.6L549.2 252.5Z" fill="#1c82f4" stroke="#1c82f4" stroke-width="1.1" stroke-linejoin="round"/>
<path d="M552.2 252.4L554.3 254.5L552.2 256.6L550.1 254.5Z" fill="#1c82f4" stroke="#1c82f4" stroke-width="1.1" stroke-linejoin="round"/>
<path d="M560.8 252.8L562.9 254.9L560.8 257L558.7 254.9Z" fill="#1c82f4" stroke="#1c82f4" stroke-width="1.1" stroke-linejoin="round"/>
<path d="M553.7 255.7L555.8 257.8L553.7 259.9L551.6 257.8Z" fill="#1c82f4" stroke="#1c82f4" stroke-width="1.1" stroke-linejoin="round"/>
<path d="M555.1 256.7L557.2 258.8L555.1 260.9L553 258.8Z" fill="#1c82f4" stroke="#1c82f4" stroke-width="1.1" stroke-linejoin="round"/>
<path d="M553.7 259L555.8 261.1L553.7 263.2L551.6 261.1Z" fill="#1c82f4" stroke="#1c82f4" stroke-width="1.1" stroke-linejoin="round"/>
<path d="M560.3 258.1L562.4 260.2L560.3 262.3L558.2 260.2Z" fill="#1c82f4" stroke="#1c82f4" stroke-width="1.1" stroke-linejoin="round"/>
<path d="M555.6 261.4L557.7 263.5L555.6 265.6L553.5 263.5Z" fill="#1c82f4" stroke="#1c82f4" stroke-width="1.1" stroke-linejoin="round"/>
<path d="M558.9 260.5L561 262.6L558.9 264.7L556.8 262.6Z" fill="#1c82f4" stroke="#1c82f4" stroke-width="1.1" stroke-linejoin="round"/>
<path d="M557.5 266.2L559.6 268.3L557.5 270.4L555.4 268.3Z" fill="#1c82f4" stroke="#1c82f4" stroke-width="1.1" stroke-linejoin="round"/>
<path d="M559.9 266.7L562 268.8L559.9 270.9L557.8 268.8Z" fill="#1c82f4" stroke="#1c82f4" stroke-width="1.1" stroke-linejoin="round"/>
<path d="M556 268.6L558.1 270.7L556 272.8L553.9 270.7Z" fill="#1c82f4" stroke="#1c82f4" stroke-width="1.1" stroke-linejoin="round"/>
<path d="M557 270.5L559.1 272.6L557 274.7L554.9 272.6Z" fill="#1c82f4" stroke="#1c82f4" stroke-width="1.1" stroke-linejoin="round"/>
<path d="M558.1 274.7L560.2 276.8L558.1 278.9L556 276.8Z" fill="#1c82f4" stroke="#1c82f4" stroke-width="1.1" stroke-linejoin="round"/>
<path d="M561.1 277.1L563.2 279.2L561.1 281.3L559 279.2Z" fill="#1c82f4" stroke="#1c82f4" stroke-width="1.1" stroke-linejoin="round"/>
<path d="M556.9 298.6L559 300.7L556.9 302.8L554.8 300.7Z" fill="#1c82f4" stroke="#1c82f4" stroke-width="1.1" stroke-linejoin="round"/>
<path d="M558.1 305.7L560.2 307.8L558.1 309.9L556 307.8Z" fill="#1c82f4" stroke="#1c82f4" stroke-width="1.1" stroke-linejoin="round"/>
<path d="M559.9 307.5L562 309.6L559.9 311.7L557.8 309.6Z" fill="#1c82f4" stroke="#1c82f4" stroke-width="1.1" stroke-linejoin="round"/>
<path d="M556.9 312.3L559 314.4L556.9 316.5L554.8 314.4Z" fill="#1c82f4" stroke="#1c82f4" stroke-width="1.1" stroke-linejoin="round"/>
<path d="M559.3 314.1L561.4 316.2L559.3 318.3L557.2 316.2Z" fill="#1c82f4" stroke="#1c82f4" stroke-width="1.1" stroke-linejoin="round"/>
<path d="M560.5 316.5L562.6 318.6L560.5 320.7L558.4 318.6Z" fill="#1c82f4" stroke="#1c82f4" stroke-width="1.1" stroke-linejoin="round"/>
<path d="M630.5 244.7L632.6 246.8L630.5 248.9L628.4 246.8Z" fill="#1c82f4" stroke="#1c82f4" stroke-width="1.1" stroke-linejoin="round"/>
<path d="M632.5 244.7L634.6 246.8L632.5 248.9L630.4 246.8Z" fill="#1c82f4" stroke="#1c82f4" stroke-width="1.1" stroke-linejoin="round"/>
<path d="M634.5 244.7L636.6 246.8L634.5 248.9L632.4 246.8Z" fill="#1c82f4" stroke="#1c82f4" stroke-width="1.1" stroke-linejoin="round"/>
<path d="M636.5 244.7L638.6 246.8L636.5 248.9L634.4 246.8Z" fill="#1c82f4" stroke="#1c82f4" stroke-width="1.1" stroke-linejoin="round"/>
<path d="M638.5 244.7L640.6 246.8L638.5 248.9L636.4 246.8Z" fill="#1c82f4" stroke="#1c82f4" stroke-width="1.1" stroke-linejoin="round"/>
<path d="M640.5 244.7L642.6 246.8L640.5 248.9L638.4 246.8Z" fill="#1c82f4" stroke="#1c82f4" stroke-width="1.1" stroke-linejoin="round"/>
<path d="M642.5 244.7L644.6 246.8L642.5 248.9L640.4 246.8Z" fill="#1c82f4" stroke="#1c82f4" stroke-width="1.1" stroke-linejoin="round"/>
<path d="M631 246.7L633.1 248.8L631 250.9L628.9 248.8Z" fill="#1c82f4" stroke="#1c82f4" stroke-width="1.1" stroke-linejoin="round"/>
<path d="M633.7 246.7L635.8 248.8L633.7 250.9L631.6 248.8Z" fill="#1c82f4" stroke="#1c82f4" stroke-width="1.1" stroke-linejoin="round"/>
<path d="M636.4 246.7L638.5 248.8L636.4 250.9L634.3 248.8Z" fill="#1c82f4" stroke="#1c82f4" stroke-width="1.1" stroke-linejoin="round"/>
<path d="M639.1 246.7L641.2 248.8L639.1 250.9L637 248.8Z" fill="#1c82f4" stroke="#1c82f4" stroke-width="1.1" stroke-linejoin="round"/>
<path d="M641.8 246.7L643.9 248.8L641.8 250.9L639.7 248.8Z" fill="#1c82f4" stroke="#1c82f4" stroke-width="1.1" stroke-linejoin="round"/>
<path d="M631.8 250L633.9 252.1L631.8 254.2L629.7 252.1Z" fill="#1c82f4" stroke="#1c82f4" stroke-width="1.1" stroke-linejoin="round"/>
<path d="M633.2 251.9L635.3 254L633.2 256.1L631.1 254Z" fill="#1c82f4" stroke="#1c82f4" stroke-width="1.1" stroke-linejoin="round"/>
<path d="M634.6 254.3L636.7 256.4L634.6 258.5L632.5 256.4Z" fill="#1c82f4" stroke="#1c82f4" stroke-width="1.1" stroke-linejoin="round"/>
<path d="M633.2 258.1L635.3 260.2L633.2 262.3L631.1 260.2Z" fill="#1c82f4" stroke="#1c82f4" stroke-width="1.1" stroke-linejoin="round"/>
<path d="M640.3 250.4L642.4 252.5L640.3 254.6L638.2 252.5Z" fill="#1c82f4" stroke="#1c82f4" stroke-width="1.1" stroke-linejoin="round"/>
<path d="M641.3 252.8L643.4 254.9L641.3 257L639.2 254.9Z" fill="#1c82f4" stroke="#1c82f4" stroke-width="1.1" stroke-linejoin="round"/>
<path d="M640.3 255.7L642.4 257.8L640.3 259.9L638.2 257.8Z" fill="#1c82f4" stroke="#1c82f4" stroke-width="1.1" stroke-linejoin="round"/>
<path d="M642.7 260.5L644.8 262.6L642.7 264.7L640.6 262.6Z" fill="#1c82f4" stroke="#1c82f4" stroke-width="1.1" stroke-linejoin="round"/>
<path d="M641.3 261.9L643.4 264L641.3 266.1L639.2 264Z" fill="#1c82f4" stroke="#1c82f4" stroke-width="1.1" stroke-linejoin="round"/>
<path d="M639.4 263.8L641.5 265.9L639.4 268L637.3 265.9Z" fill="#1c82f4" stroke="#1c82f4" stroke-width="1.1" stroke-linejoin="round"/>
<path d="M638.9 266.2L641 268.3L638.9 270.4L636.8 268.3Z" fill="#1c82f4" stroke="#1c82f4" stroke-width="1.1" stroke-linejoin="round"/>
<path d="M632.7 268.6L634.8 270.7L632.7 272.8L630.6 270.7Z" fill="#1c82f4" stroke="#1c82f4" stroke-width="1.1" stroke-linejoin="round"/>
<path d="M640.3 269.1L642.4 271.2L640.3 273.3L638.2 271.2Z" fill="#1c82f4" stroke="#1c82f4" stroke-width="1.1" stroke-linejoin="round"/>
<path d="M638.4 269.5L640.5 271.6L638.4 273.7L636.3 271.6Z" fill="#1c82f4" stroke="#1c82f4" stroke-width="1.1" stroke-linejoin="round"/>
<path d="M637.5 282.2L639.6 284.3L637.5 286.4L635.4 284.3Z" fill="#1c82f4" stroke="#1c82f4" stroke-width="1.1" stroke-linejoin="round"/>
<path d="M641.3 281.9L643.4 284L641.3 286.1L639.2 284Z" fill="#1c82f4" stroke="#1c82f4" stroke-width="1.1" stroke-linejoin="round"/>
<path d="M639.9 295L642 297.1L639.9 299.2L637.8 297.1Z" fill="#1c82f4" stroke="#1c82f4" stroke-width="1.1" stroke-linejoin="round"/>
<path d="M635.1 298.2L637.2 300.3L635.1 302.4L633 300.3Z" fill="#1c82f4" stroke="#1c82f4" stroke-width="1.1" stroke-linejoin="round"/>
<path d="M641.7 301L643.8 303.1L641.7 305.2L639.6 303.1Z" fill="#1c82f4" stroke="#1c82f4" stroke-width="1.1" stroke-linejoin="round"/>
<path d="M633.3 307.1L635.4 309.2L633.3 311.3L631.2 309.2Z" fill="#1c82f4" stroke="#1c82f4" stroke-width="1.1" stroke-linejoin="round"/>
<path d="M710.5 244.7L712.6 246.8L710.5 248.9L708.4 246.8Z" fill="#1c82f4" stroke="#1c82f4" stroke-width="1.1" stroke-linejoin="round"/>
<path d="M712.5 244.7L714.6 246.8L712.5 248.9L710.4 246.8Z" fill="#1c82f4" stroke="#1c82f4" stroke-width="1.1" stroke-linejoin="round"/>
<path d="M714.5 244.7L716.6 246.8L714.5 248.9L712.4 246.8Z" fill="#1c82f4" stroke="#1c82f4" stroke-width="1.1" stroke-linejoin="round"/>
<path d="M716.5 244.7L718.6 246.8L716.5 248.9L714.4 246.8Z" fill="#1c82f4" stroke="#1c82f4" stroke-width="1.1" stroke-linejoin="round"/>
<path d="M718.5 244.7L720.6 246.8L718.5 248.9L716.4 246.8Z" fill="#1c82f4" stroke="#1c82f4" stroke-width="1.1" stroke-linejoin="round"/>
<path d="M720.5 244.7L722.6 246.8L720.5 248.9L718.4 246.8Z" fill="#1c82f4" stroke="#1c82f4" stroke-width="1.1" stroke-linejoin="round"/>
<path d="M722.5 244.7L724.6 246.8L722.5 248.9L720.4 246.8Z" fill="#1c82f4" stroke="#1c82f4" stroke-width="1.1" stroke-linejoin="round"/>
<path d="M724.5 244.7L726.6 246.8L724.5 248.9L722.4 246.8Z" fill="#1c82f4" stroke="#1c82f4" stroke-width="1.1" stroke-linejoin="round"/>
<path d="M711 247.1L713.1 249.2L711 251.3L708.9 249.2Z" fill="#1c82f4" stroke="#1c82f4" stroke-width="1.1" stroke-linejoin="round"/>
<path d="M713.2 247.1L715.3 249.2L713.2 251.3L711.1 249.2Z" fill="#1c82f4" stroke="#1c82f4" stroke-width="1.1" stroke-linejoin="round"/>
<path d="M715.4 247.1L717.5 249.2L715.4 251.3L713.3 249.2Z" fill="#1c82f4" stroke="#1c82f4" stroke-width="1.1" stroke-linejoin="round"/>
<path d="M717.6 247.1L719.7 249.2L717.6 251.3L715.5 249.2Z" fill="#1c82f4" stroke="#1c82f4" stroke-width="1.1" stroke-linejoin="round"/>
<path d="M719.8 247.1L721.9 249.2L719.8 251.3L717.7 249.2Z" fill="#1c82f4" stroke="#1c82f4" stroke-width="1.1" stroke-linejoin="round"/>
<path d="M722 247.1L724.1 249.2L722 251.3L719.9 249.2Z" fill="#1c82f4" stroke="#1c82f4" stroke-width="1.1" stroke-linejoin="round"/>
<path d="M714.6 250L716.7 252.1L714.6 254.2L712.5 252.1Z" fill="#1c82f4" stroke="#1c82f4" stroke-width="1.1" stroke-linejoin="round"/>
<path d="M719.9 250.4L722 252.5L719.9 254.6L717.8 252.5Z" fill="#1c82f4" stroke="#1c82f4" stroke-width="1.1" stroke-linejoin="round"/>
<path d="M721.8 252.8L723.9 254.9L721.8 257L719.7 254.9Z" fill="#1c82f4" stroke="#1c82f4" stroke-width="1.1" stroke-linejoin="round"/>
<path d="M712.2 255.2L714.3 257.3L712.2 259.4L710.1 257.3Z" fill="#1c82f4" stroke="#1c82f4" stroke-width="1.1" stroke-linejoin="round"/>
<path d="M711.3 257.6L713.4 259.7L711.3 261.8L709.2 259.7Z" fill="#1c82f4" stroke="#1c82f4" stroke-width="1.1" stroke-linejoin="round"/>
<path d="M712.7 259L714.8 261.1L712.7 263.2L710.6 261.1Z" fill="#1c82f4" stroke="#1c82f4" stroke-width="1.1" stroke-linejoin="round"/>
<path d="M718.9 255.7L721 257.8L718.9 259.9L716.8 257.8Z" fill="#1c82f4" stroke="#1c82f4" stroke-width="1.1" stroke-linejoin="round"/>
<path d="M722.3 257.6L724.4 259.7L722.3 261.8L720.2 259.7Z" fill="#1c82f4" stroke="#1c82f4" stroke-width="1.1" stroke-linejoin="round"/>
<path d="M719.9 260.9L722 263L719.9 265.1L717.8 263Z" fill="#1c82f4" stroke="#1c82f4" stroke-width="1.1" stroke-linejoin="round"/>
<path d="M720.3 263.8L722.4 265.9L720.3 268L718.2 265.9Z" fill="#1c82f4" stroke="#1c82f4" stroke-width="1.1" stroke-linejoin="round"/>
<path d="M718 265.2L720.1 267.3L718 269.4L715.9 267.3Z" fill="#1c82f4" stroke="#1c82f4" stroke-width="1.1" stroke-linejoin="round"/>
<path d="M716.5 266.7L718.6 268.8L716.5 270.9L714.4 268.8Z" fill="#1c82f4" stroke="#1c82f4" stroke-width="1.1" stroke-linejoin="round"/>
<path d="M714.6 269.5L716.7 271.6L714.6 273.7L712.5 271.6Z" fill="#1c82f4" stroke="#1c82f4" stroke-width="1.1" stroke-linejoin="round"/>
<path d="M720.3 270L722.4 272.1L720.3 274.2L718.2 272.1Z" fill="#1c82f4" stroke="#1c82f4" stroke-width="1.1" stroke-linejoin="round"/>
<path d="M714.1 271.9L716.2 274L714.1 276.1L712 274Z" fill="#1c82f4" stroke="#1c82f4" stroke-width="1.1" stroke-linejoin="round"/>
<path d="M715.6 273.4L717.7 275.5L715.6 277.6L713.5 275.5Z" fill="#1c82f4" stroke="#1c82f4" stroke-width="1.1" stroke-linejoin="round"/>
<path d="M717.5 279.6L719.6 281.7L717.5 283.8L715.4 281.7Z" fill="#1c82f4" stroke="#1c82f4" stroke-width="1.1" stroke-linejoin="round"/>
<path d="M714.5 273.4L716.6 275.5L714.5 277.6L712.4 275.5Z" fill="#1c82f4" stroke="#1c82f4" stroke-width="1.1" stroke-linejoin="round"/>
<path d="M717.5 281.5L719.6 283.6L717.5 285.7L715.4 283.6Z" fill="#1c82f4" stroke="#1c82f4" stroke-width="1.1" stroke-linejoin="round"/>
<path d="M722.5 290.6L724.6 292.7L722.5 294.8L720.4 292.7Z" fill="#1c82f4" stroke="#1c82f4" stroke-width="1.1" stroke-linejoin="round"/>
<path d="M712.5 305.4L714.6 307.5L712.5 309.6L710.4 307.5Z" fill="#1c82f4" stroke="#1c82f4" stroke-width="1.1" stroke-linejoin="round"/>
<path d="M716 251.9L718.1 254L716 256.1L713.9 254Z" fill="#1c82f4" stroke="#1c82f4" stroke-width="1.1" stroke-linejoin="round"/>
<path d="M717 253.9L719.1 256L717 258.1L714.9 256Z" fill="#1c82f4" stroke="#1c82f4" stroke-width="1.1" stroke-linejoin="round"/>
<path d="M717 257.9L719.1 260L717 262.1L714.9 260Z" fill="#1c82f4" stroke="#1c82f4" stroke-width="1.1" stroke-linejoin="round"/>
<path d="M716 261.9L718.1 264L716 266.1L713.9 264Z" fill="#1c82f4" stroke="#1c82f4" stroke-width="1.1" stroke-linejoin="round"/>
<path d="M511 245.1L513.1 247.2L511 249.3L508.9 247.2Z" fill="#f00000" stroke="#f00000" stroke-width="1.1" stroke-linejoin="round"/>
<path d="M513.2 245.3L515.3 247.4L513.2 249.5L511.1 247.4Z" fill="#f00000" stroke="#f00000" stroke-width="1.1" stroke-linejoin="round"/>
<path d="M515.5 244.9L517.6 247L515.5 249.1L513.4 247Z" fill="#f00000" stroke="#f00000" stroke-width="1.1" stroke-linejoin="round"/>
<path d="M517.5 244.8L519.6 246.9L517.5 249L515.4 246.9Z" fill="#f00000" stroke="#f00000" stroke-width="1.1" stroke-linejoin="round"/>
<path d="M518.9 248.8L521 250.9L518.9 253L516.8 250.9Z" fill="#f00000" stroke="#f00000" stroke-width="1.1" stroke-linejoin="round"/>
<path d="M512.5 258.8L514.6 260.9L512.5 263L510.4 260.9Z" fill="#f00000" stroke="#f00000" stroke-width="1.1" stroke-linejoin="round"/>
<path d="M517.1 257.4L519.2 259.5L517.1 261.6L515 259.5Z" fill="#f00000" stroke="#f00000" stroke-width="1.1" stroke-linejoin="round"/>
<path d="M515.6 287.2L517.7 289.3L515.6 291.4L513.5 289.3Z" fill="#f00000" stroke="#f00000" stroke-width="1.1" stroke-linejoin="round"/>
<path d="M518.3 299.8L520.4 301.9L518.3 304L516.2 301.9Z" fill="#f00000" stroke="#f00000" stroke-width="1.1" stroke-linejoin="round"/>
<path d="M590 244.9L592.1 247L590 249.1L587.9 247Z" fill="#f00000" stroke="#f00000" stroke-width="1.1" stroke-linejoin="round"/>
<path d="M592 244.9L594.1 247L592 249.1L589.9 247Z" fill="#f00000" stroke="#f00000" stroke-width="1.1" stroke-linejoin="round"/>
<path d="M594 244.9L596.1 247L594 249.1L591.9 247Z" fill="#f00000" stroke="#f00000" stroke-width="1.1" stroke-linejoin="round"/>
<path d="M596 244.9L598.1 247L596 249.1L593.9 247Z" fill="#f00000" stroke="#f00000" stroke-width="1.1" stroke-linejoin="round"/>
<path d="M598 244.9L600.1 247L598 249.1L595.9 247Z" fill="#f00000" stroke="#f00000" stroke-width="1.1" stroke-linejoin="round"/>
<path d="M600 244.9L602.1 247L600 249.1L597.9 247Z" fill="#f00000" stroke="#f00000" stroke-width="1.1" stroke-linejoin="round"/>
<path d="M602 244.9L604.1 247L602 249.1L599.9 247Z" fill="#f00000" stroke="#f00000" stroke-width="1.1" stroke-linejoin="round"/>
<path d="M590 246.9L592.1 249L590 251.1L587.9 249Z" fill="#f00000" stroke="#f00000" stroke-width="1.1" stroke-linejoin="round"/>
<path d="M593 247.9L595.1 250L593 252.1L590.9 250Z" fill="#f00000" stroke="#f00000" stroke-width="1.1" stroke-linejoin="round"/>
<path d="M596 248.4L598.1 250.5L596 252.6L593.9 250.5Z" fill="#f00000" stroke="#f00000" stroke-width="1.1" stroke-linejoin="round"/>
<path d="M599 247.4L601.1 249.5L599 251.6L596.9 249.5Z" fill="#f00000" stroke="#f00000" stroke-width="1.1" stroke-linejoin="round"/>
<path d="M601.5 246.4L603.6 248.5L601.5 250.6L599.4 248.5Z" fill="#f00000" stroke="#f00000" stroke-width="1.1" stroke-linejoin="round"/>
<path d="M597.5 252.8L599.6 254.9L597.5 257L595.4 254.9Z" fill="#f00000" stroke="#f00000" stroke-width="1.1" stroke-linejoin="round"/>
<path d="M596.5 254.3L598.6 256.4L596.5 258.5L594.4 256.4Z" fill="#f00000" stroke="#f00000" stroke-width="1.1" stroke-linejoin="round"/>
<path d="M597 267.6L599.1 269.7L597 271.8L594.9 269.7Z" fill="#f00000" stroke="#f00000" stroke-width="1.1" stroke-linejoin="round"/>
<path d="M597 269.5L599.1 271.6L597 273.7L594.9 271.6Z" fill="#f00000" stroke="#f00000" stroke-width="1.1" stroke-linejoin="round"/>
<path d="M598.7 273.3L600.8 275.4L598.7 277.5L596.6 275.4Z" fill="#f00000" stroke="#f00000" stroke-width="1.1" stroke-linejoin="round"/>
<path d="M601.5 274.3L603.6 276.4L601.5 278.5L599.4 276.4Z" fill="#f00000" stroke="#f00000" stroke-width="1.1" stroke-linejoin="round"/>
<path d="M601.1 281.9L603.2 284L601.1 286.1L599 284Z" fill="#f00000" stroke="#f00000" stroke-width="1.1" stroke-linejoin="round"/>
<path d="M600.5 290.2L602.6 292.3L600.5 294.4L598.4 292.3Z" fill="#f00000" stroke="#f00000" stroke-width="1.1" stroke-linejoin="round"/>
<path d="M593.3 295.6L595.4 297.7L593.3 299.8L591.2 297.7Z" fill="#f00000" stroke="#f00000" stroke-width="1.1" stroke-linejoin="round"/>
<path d="M593.9 297.4L596 299.5L593.9 301.6L591.8 299.5Z" fill="#f00000" stroke="#f00000" stroke-width="1.1" stroke-linejoin="round"/>
<path d="M590.9 305.7L593 307.8L590.9 309.9L588.8 307.8Z" fill="#f00000" stroke="#f00000" stroke-width="1.1" stroke-linejoin="round"/>
<path d="M669.5 244.9L671.6 247L669.5 249.1L667.4 247Z" fill="#f00000" stroke="#f00000" stroke-width="1.1" stroke-linejoin="round"/>
<path d="M671.3 244.9L673.4 247L671.3 249.1L669.2 247Z" fill="#f00000" stroke="#f00000" stroke-width="1.1" stroke-linejoin="round"/>
<path d="M673.1 244.9L675.2 247L673.1 249.1L671 247Z" fill="#f00000" stroke="#f00000" stroke-width="1.1" stroke-linejoin="round"/>
<path d="M674.9 244.9L677 247L674.9 249.1L672.8 247Z" fill="#f00000" stroke="#f00000" stroke-width="1.1" stroke-linejoin="round"/>
<path d="M676.7 244.9L678.8 247L676.7 249.1L674.6 247Z" fill="#f00000" stroke="#f00000" stroke-width="1.1" stroke-linejoin="round"/>
<path d="M678.5 244.9L680.6 247L678.5 249.1L676.4 247Z" fill="#f00000" stroke="#f00000" stroke-width="1.1" stroke-linejoin="round"/>
<path d="M680.3 244.9L682.4 247L680.3 249.1L678.2 247Z" fill="#f00000" stroke="#f00000" stroke-width="1.1" stroke-linejoin="round"/>
<path d="M682.1 244.9L684.2 247L682.1 249.1L680 247Z" fill="#f00000" stroke="#f00000" stroke-width="1.1" stroke-linejoin="round"/>
<path d="M683.9 244.9L686 247L683.9 249.1L681.8 247Z" fill="#f00000" stroke="#f00000" stroke-width="1.1" stroke-linejoin="round"/>
<path d="M670 247.1L672.1 249.2L670 251.3L667.9 249.2Z" fill="#f00000" stroke="#f00000" stroke-width="1.1" stroke-linejoin="round"/>
<path d="M672.2 247.1L674.3 249.2L672.2 251.3L670.1 249.2Z" fill="#f00000" stroke="#f00000" stroke-width="1.1" stroke-linejoin="round"/>
<path d="M674.4 247.1L676.5 249.2L674.4 251.3L672.3 249.2Z" fill="#f00000" stroke="#f00000" stroke-width="1.1" stroke-linejoin="round"/>
<path d="M676.6 247.1L678.7 249.2L676.6 251.3L674.5 249.2Z" fill="#f00000" stroke="#f00000" stroke-width="1.1" stroke-linejoin="round"/>
<path d="M678.8 247.1L680.9 249.2L678.8 251.3L676.7 249.2Z" fill="#f00000" stroke="#f00000" stroke-width="1.1" stroke-linejoin="round"/>
<path d="M681 247.1L683.1 249.2L681 251.3L678.9 249.2Z" fill="#f00000" stroke="#f00000" stroke-width="1.1" stroke-linejoin="round"/>
<path d="M683.2 247.1L685.3 249.2L683.2 251.3L681.1 249.2Z" fill="#f00000" stroke="#f00000" stroke-width="1.1" stroke-linejoin="round"/>
<path d="M673 248.9L675.1 251L673 253.1L670.9 251Z" fill="#f00000" stroke="#f00000" stroke-width="1.1" stroke-linejoin="round"/>
<path d="M683 248.9L685.1 251L683 253.1L680.9 251Z" fill="#f00000" stroke="#f00000" stroke-width="1.1" stroke-linejoin="round"/>
<path d="M678 252.8L680.1 254.9L678 257L675.9 254.9Z" fill="#f00000" stroke="#f00000" stroke-width="1.1" stroke-linejoin="round"/>
<path d="M675.1 254.3L677.2 256.4L675.1 258.5L673 256.4Z" fill="#f00000" stroke="#f00000" stroke-width="1.1" stroke-linejoin="round"/>
<path d="M673.7 255.2L675.8 257.3L673.7 259.4L671.6 257.3Z" fill="#f00000" stroke="#f00000" stroke-width="1.1" stroke-linejoin="round"/>
<path d="M671.3 261.9L673.4 264L671.3 266.1L669.2 264Z" fill="#f00000" stroke="#f00000" stroke-width="1.1" stroke-linejoin="round"/>
<path d="M672.7 260.9L674.8 263L672.7 265.1L670.6 263Z" fill="#f00000" stroke="#f00000" stroke-width="1.1" stroke-linejoin="round"/>
<path d="M673.8 276L675.9 278.1L673.8 280.2L671.7 278.1Z" fill="#f00000" stroke="#f00000" stroke-width="1.1" stroke-linejoin="round"/>
<path d="M680.5 283.6L682.6 285.7L680.5 287.8L678.4 285.7Z" fill="#f00000" stroke="#f00000" stroke-width="1.1" stroke-linejoin="round"/>
<path d="M679.9 288.2L682 290.3L679.9 292.4L677.8 290.3Z" fill="#f00000" stroke="#f00000" stroke-width="1.1" stroke-linejoin="round"/>
<path d="M677.5 289.6L679.6 291.7L677.5 293.8L675.4 291.7Z" fill="#f00000" stroke="#f00000" stroke-width="1.1" stroke-linejoin="round"/>
<path d="M682.3 298.6L684.4 300.7L682.3 302.8L680.2 300.7Z" fill="#f00000" stroke="#f00000" stroke-width="1.1" stroke-linejoin="round"/>
<path d="M681.7 303.3L683.8 305.4L681.7 307.5L679.6 305.4Z" fill="#f00000" stroke="#f00000" stroke-width="1.1" stroke-linejoin="round"/>
<path d="M672.7 308.1L674.8 310.2L672.7 312.3L670.6 310.2Z" fill="#f00000" stroke="#f00000" stroke-width="1.1" stroke-linejoin="round"/>
<path d="M750.5 244.7L752.6 246.8L750.5 248.9L748.4 246.8Z" fill="#f00000" stroke="#f00000" stroke-width="1.1" stroke-linejoin="round"/>
<path d="M752.5 244.7L754.6 246.8L752.5 248.9L750.4 246.8Z" fill="#f00000" stroke="#f00000" stroke-width="1.1" stroke-linejoin="round"/>
<path d="M754.5 244.7L756.6 246.8L754.5 248.9L752.4 246.8Z" fill="#f00000" stroke="#f00000" stroke-width="1.1" stroke-linejoin="round"/>
<path d="M756.5 244.7L758.6 246.8L756.5 248.9L754.4 246.8Z" fill="#f00000" stroke="#f00000" stroke-width="1.1" stroke-linejoin="round"/>
<path d="M758.5 244.7L760.6 246.8L758.5 248.9L756.4 246.8Z" fill="#f00000" stroke="#f00000" stroke-width="1.1" stroke-linejoin="round"/>
<path d="M760.5 244.7L762.6 246.8L760.5 248.9L758.4 246.8Z" fill="#f00000" stroke="#f00000" stroke-width="1.1" stroke-linejoin="round"/>
<path d="M762.5 244.7L764.6 246.8L762.5 248.9L760.4 246.8Z" fill="#f00000" stroke="#f00000" stroke-width="1.1" stroke-linejoin="round"/>
<path d="M764.5 244.7L766.6 246.8L764.5 248.9L762.4 246.8Z" fill="#f00000" stroke="#f00000" stroke-width="1.1" stroke-linejoin="round"/>
<path d="M752 247.1L754.1 249.2L752 251.3L749.9 249.2Z" fill="#f00000" stroke="#f00000" stroke-width="1.1" stroke-linejoin="round"/>
<path d="M754.5 247.1L756.6 249.2L754.5 251.3L752.4 249.2Z" fill="#f00000" stroke="#f00000" stroke-width="1.1" stroke-linejoin="round"/>
<path d="M757 247.1L759.1 249.2L757 251.3L754.9 249.2Z" fill="#f00000" stroke="#f00000" stroke-width="1.1" stroke-linejoin="round"/>
<path d="M759.5 247.1L761.6 249.2L759.5 251.3L757.4 249.2Z" fill="#f00000" stroke="#f00000" stroke-width="1.1" stroke-linejoin="round"/>
<path d="M762 247.1L764.1 249.2L762 251.3L759.9 249.2Z" fill="#f00000" stroke="#f00000" stroke-width="1.1" stroke-linejoin="round"/>
<path d="M752.2 250L754.3 252.1L752.2 254.2L750.1 252.1Z" fill="#f00000" stroke="#f00000" stroke-width="1.1" stroke-linejoin="round"/>
<path d="M751.8 250.9L753.9 253L751.8 255.1L749.7 253Z" fill="#f00000" stroke="#f00000" stroke-width="1.1" stroke-linejoin="round"/>
<path d="M755.1 251.4L757.2 253.5L755.1 255.6L753 253.5Z" fill="#f00000" stroke="#f00000" stroke-width="1.1" stroke-linejoin="round"/>
<path d="M757 249.9L759.1 252L757 254.1L754.9 252Z" fill="#f00000" stroke="#f00000" stroke-width="1.1" stroke-linejoin="round"/>
<path d="M762.3 252.8L764.4 254.9L762.3 257L760.2 254.9Z" fill="#f00000" stroke="#f00000" stroke-width="1.1" stroke-linejoin="round"/>
<path d="M751.8 255.7L753.9 257.8L751.8 259.9L749.7 257.8Z" fill="#f00000" stroke="#f00000" stroke-width="1.1" stroke-linejoin="round"/>
<path d="M755.6 256.7L757.7 258.8L755.6 260.9L753.5 258.8Z" fill="#f00000" stroke="#f00000" stroke-width="1.1" stroke-linejoin="round"/>
<path d="M754.6 259.5L756.7 261.6L754.6 263.7L752.5 261.6Z" fill="#f00000" stroke="#f00000" stroke-width="1.1" stroke-linejoin="round"/>
<path d="M755.6 260.5L757.7 262.6L755.6 264.7L753.5 262.6Z" fill="#f00000" stroke="#f00000" stroke-width="1.1" stroke-linejoin="round"/>
<path d="M762.3 262.9L764.4 265L762.3 267.1L760.2 265Z" fill="#f00000" stroke="#f00000" stroke-width="1.1" stroke-linejoin="round"/>
<path d="M761.3 264.8L763.4 266.9L761.3 269L759.2 266.9Z" fill="#f00000" stroke="#f00000" stroke-width="1.1" stroke-linejoin="round"/>
<path d="M759.9 301L762 303.1L759.9 305.2L757.8 303.1Z" fill="#f00000" stroke="#f00000" stroke-width="1.1" stroke-linejoin="round"/>
<path d="M756 253.4L758.1 255.5L756 257.6L753.9 255.5Z" fill="#f00000" stroke="#f00000" stroke-width="1.1" stroke-linejoin="round"/>
<path d="M754 254.4L756.1 256.5L754 258.6L751.9 256.5Z" fill="#f00000" stroke="#f00000" stroke-width="1.1" stroke-linejoin="round"/>
</g>
</svg>
</body></html>
